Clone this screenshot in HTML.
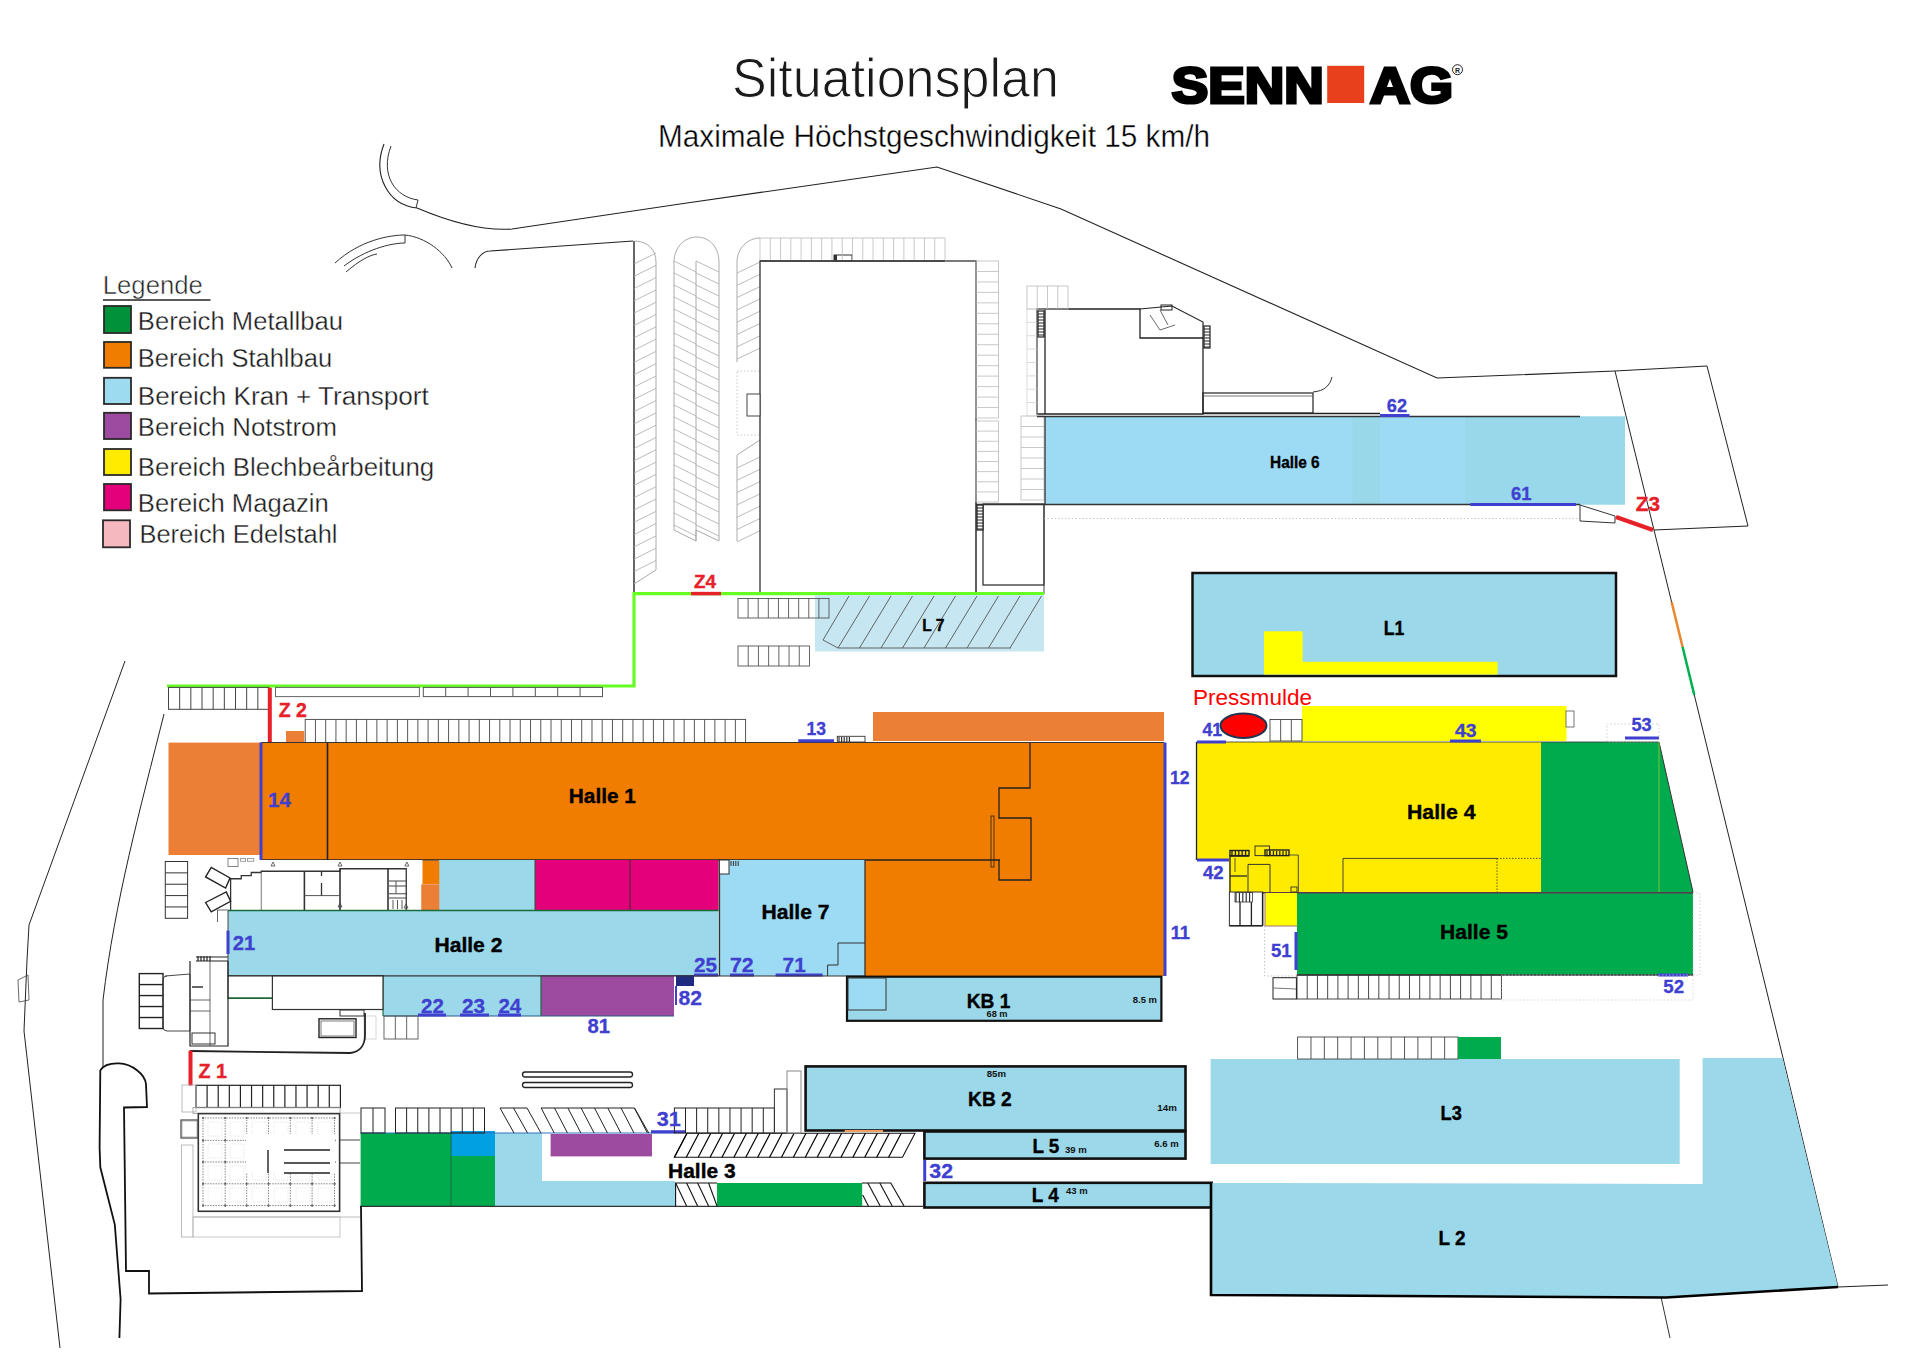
<!DOCTYPE html>
<html><head><meta charset="utf-8"><title>Situationsplan</title>
<style>html,body{margin:0;padding:0;background:#fff;}svg{display:block;}</style></head>
<body><svg width="1920" height="1357" viewBox="0 0 1920 1357" font-family="Liberation Sans, sans-serif">
<rect width="1920" height="1357" fill="#fff"/>
<path d="M384,144 C372,175 388,205 417,208 C450,222 485,231 512,229 L680,204 L937,167 L1061,209 L1437,378 L1615,371" fill="none" stroke="#222" stroke-width="1.1" />
<path d="M391,146 C380,175 395,197 418,200 L416,208" fill="none" stroke="#333" stroke-width="1" />
<path d="M335,263 C360,240 390,235 405,235 C425,237 445,252 452,268" fill="none" stroke="#333" stroke-width="1" />
<path d="M344,266 C365,250 390,243 405,243 L405,235" fill="none" stroke="#333" stroke-width="1" />
<path d="M346,272 C360,260 370,255 377,254" fill="none" stroke="#333" stroke-width="1" />
<path d="M475,268 C476,258 483,251 490,251 L633,241" fill="none" stroke="#222" stroke-width="1.1" />
<line x1="634" y1="241" x2="634" y2="594" stroke="#333" stroke-width="1.5" />
<polyline points="1615,371 1707,366 1748,526 1654,530 1615,371" fill="none" stroke="#222" stroke-width="1" />
<polyline points="1654,530 1784,1062 1838,1287 1888,1285" fill="none" stroke="#222" stroke-width="1" />
<line x1="1661" y1="1297" x2="1670" y2="1338" stroke="#333" stroke-width="1" />
<polyline points="125,661 29,925 27,960 24,1031 60,1348" fill="none" stroke="#222" stroke-width="1" />
<path d="M18,980 L28,975 L29,1000 L19,1002 Z" fill="none" stroke="#444" stroke-width="0.8" />
<path d="M164,714 C140,810 115,900 103,1000 L103,1068" fill="none" stroke="#222" stroke-width="1" />
<path d="M634,241 C648,241 656,250 656,262 L656,570 L634,584" fill="none" stroke="#aaa" stroke-width="1" />
<line x1="634" y1="264.0" x2="656" y2="253.0" stroke="#aaa" stroke-width="0.8" />
<line x1="634" y1="276.3" x2="656" y2="265.3" stroke="#aaa" stroke-width="0.8" />
<line x1="634" y1="288.6" x2="656" y2="277.6" stroke="#aaa" stroke-width="0.8" />
<line x1="634" y1="300.9" x2="656" y2="289.9" stroke="#aaa" stroke-width="0.8" />
<line x1="634" y1="313.2" x2="656" y2="302.2" stroke="#aaa" stroke-width="0.8" />
<line x1="634" y1="325.5" x2="656" y2="314.5" stroke="#aaa" stroke-width="0.8" />
<line x1="634" y1="337.8" x2="656" y2="326.8" stroke="#aaa" stroke-width="0.8" />
<line x1="634" y1="350.1" x2="656" y2="339.1" stroke="#aaa" stroke-width="0.8" />
<line x1="634" y1="362.4" x2="656" y2="351.4" stroke="#aaa" stroke-width="0.8" />
<line x1="634" y1="374.7" x2="656" y2="363.7" stroke="#aaa" stroke-width="0.8" />
<line x1="634" y1="387.0" x2="656" y2="376.0" stroke="#aaa" stroke-width="0.8" />
<line x1="634" y1="399.3" x2="656" y2="388.3" stroke="#aaa" stroke-width="0.8" />
<line x1="634" y1="411.6" x2="656" y2="400.6" stroke="#aaa" stroke-width="0.8" />
<line x1="634" y1="423.9" x2="656" y2="412.9" stroke="#aaa" stroke-width="0.8" />
<line x1="634" y1="436.2" x2="656" y2="425.2" stroke="#aaa" stroke-width="0.8" />
<line x1="634" y1="448.5" x2="656" y2="437.5" stroke="#aaa" stroke-width="0.8" />
<line x1="634" y1="460.8" x2="656" y2="449.8" stroke="#aaa" stroke-width="0.8" />
<line x1="634" y1="473.1" x2="656" y2="462.1" stroke="#aaa" stroke-width="0.8" />
<line x1="634" y1="485.4" x2="656" y2="474.4" stroke="#aaa" stroke-width="0.8" />
<line x1="634" y1="497.7" x2="656" y2="486.7" stroke="#aaa" stroke-width="0.8" />
<line x1="634" y1="510.0" x2="656" y2="499.0" stroke="#aaa" stroke-width="0.8" />
<line x1="634" y1="522.3" x2="656" y2="511.3" stroke="#aaa" stroke-width="0.8" />
<line x1="634" y1="534.6" x2="656" y2="523.6" stroke="#aaa" stroke-width="0.8" />
<line x1="634" y1="546.9" x2="656" y2="535.9" stroke="#aaa" stroke-width="0.8" />
<line x1="634" y1="559.2" x2="656" y2="548.2" stroke="#aaa" stroke-width="0.8" />
<line x1="634" y1="571.5" x2="656" y2="560.5" stroke="#aaa" stroke-width="0.8" />
<path d="M674,262 C674,248 684,237 697,237 C710,237 719,248 719,262 L719,541 L696,530 L696,541 L674,530 Z" fill="none" stroke="#aaa" stroke-width="1" />
<line x1="696" y1="261" x2="696" y2="541" stroke="#aaa" stroke-width="1" />
<line x1="674" y1="261" x2="696" y2="272" stroke="#aaa" stroke-width="0.8" />
<line x1="696" y1="261" x2="719" y2="272" stroke="#aaa" stroke-width="0.8" />
<line x1="674" y1="273" x2="696" y2="284" stroke="#aaa" stroke-width="0.8" />
<line x1="696" y1="273" x2="719" y2="284" stroke="#aaa" stroke-width="0.8" />
<line x1="674" y1="285" x2="696" y2="296" stroke="#aaa" stroke-width="0.8" />
<line x1="696" y1="285" x2="719" y2="296" stroke="#aaa" stroke-width="0.8" />
<line x1="674" y1="297" x2="696" y2="308" stroke="#aaa" stroke-width="0.8" />
<line x1="696" y1="297" x2="719" y2="308" stroke="#aaa" stroke-width="0.8" />
<line x1="674" y1="309" x2="696" y2="320" stroke="#aaa" stroke-width="0.8" />
<line x1="696" y1="309" x2="719" y2="320" stroke="#aaa" stroke-width="0.8" />
<line x1="674" y1="321" x2="696" y2="332" stroke="#aaa" stroke-width="0.8" />
<line x1="696" y1="321" x2="719" y2="332" stroke="#aaa" stroke-width="0.8" />
<line x1="674" y1="333" x2="696" y2="344" stroke="#aaa" stroke-width="0.8" />
<line x1="696" y1="333" x2="719" y2="344" stroke="#aaa" stroke-width="0.8" />
<line x1="674" y1="345" x2="696" y2="356" stroke="#aaa" stroke-width="0.8" />
<line x1="696" y1="345" x2="719" y2="356" stroke="#aaa" stroke-width="0.8" />
<line x1="674" y1="357" x2="696" y2="368" stroke="#aaa" stroke-width="0.8" />
<line x1="696" y1="357" x2="719" y2="368" stroke="#aaa" stroke-width="0.8" />
<line x1="674" y1="369" x2="696" y2="380" stroke="#aaa" stroke-width="0.8" />
<line x1="696" y1="369" x2="719" y2="380" stroke="#aaa" stroke-width="0.8" />
<line x1="674" y1="381" x2="696" y2="392" stroke="#aaa" stroke-width="0.8" />
<line x1="696" y1="381" x2="719" y2="392" stroke="#aaa" stroke-width="0.8" />
<line x1="674" y1="393" x2="696" y2="404" stroke="#aaa" stroke-width="0.8" />
<line x1="696" y1="393" x2="719" y2="404" stroke="#aaa" stroke-width="0.8" />
<line x1="674" y1="405" x2="696" y2="416" stroke="#aaa" stroke-width="0.8" />
<line x1="696" y1="405" x2="719" y2="416" stroke="#aaa" stroke-width="0.8" />
<line x1="674" y1="417" x2="696" y2="428" stroke="#aaa" stroke-width="0.8" />
<line x1="696" y1="417" x2="719" y2="428" stroke="#aaa" stroke-width="0.8" />
<line x1="674" y1="429" x2="696" y2="440" stroke="#aaa" stroke-width="0.8" />
<line x1="696" y1="429" x2="719" y2="440" stroke="#aaa" stroke-width="0.8" />
<line x1="674" y1="441" x2="696" y2="452" stroke="#aaa" stroke-width="0.8" />
<line x1="696" y1="441" x2="719" y2="452" stroke="#aaa" stroke-width="0.8" />
<line x1="674" y1="453" x2="696" y2="464" stroke="#aaa" stroke-width="0.8" />
<line x1="696" y1="453" x2="719" y2="464" stroke="#aaa" stroke-width="0.8" />
<line x1="674" y1="465" x2="696" y2="476" stroke="#aaa" stroke-width="0.8" />
<line x1="696" y1="465" x2="719" y2="476" stroke="#aaa" stroke-width="0.8" />
<line x1="674" y1="477" x2="696" y2="488" stroke="#aaa" stroke-width="0.8" />
<line x1="696" y1="477" x2="719" y2="488" stroke="#aaa" stroke-width="0.8" />
<line x1="674" y1="489" x2="696" y2="500" stroke="#aaa" stroke-width="0.8" />
<line x1="696" y1="489" x2="719" y2="500" stroke="#aaa" stroke-width="0.8" />
<line x1="674" y1="501" x2="696" y2="512" stroke="#aaa" stroke-width="0.8" />
<line x1="696" y1="501" x2="719" y2="512" stroke="#aaa" stroke-width="0.8" />
<line x1="674" y1="513" x2="696" y2="524" stroke="#aaa" stroke-width="0.8" />
<line x1="696" y1="513" x2="719" y2="524" stroke="#aaa" stroke-width="0.8" />
<line x1="674" y1="525" x2="696" y2="536" stroke="#aaa" stroke-width="0.8" />
<line x1="696" y1="525" x2="719" y2="536" stroke="#aaa" stroke-width="0.8" />
<path d="M737,362 L737,262 C737,248 748,238 760,238" fill="none" stroke="#aaa" stroke-width="1" />
<line x1="737" y1="273.0" x2="760" y2="262.0" stroke="#aaa" stroke-width="0.8" />
<line x1="737" y1="285.3" x2="760" y2="274.3" stroke="#aaa" stroke-width="0.8" />
<line x1="737" y1="297.6" x2="760" y2="286.6" stroke="#aaa" stroke-width="0.8" />
<line x1="737" y1="309.9" x2="760" y2="298.9" stroke="#aaa" stroke-width="0.8" />
<line x1="737" y1="322.2" x2="760" y2="311.2" stroke="#aaa" stroke-width="0.8" />
<line x1="737" y1="334.5" x2="760" y2="323.5" stroke="#aaa" stroke-width="0.8" />
<line x1="737" y1="346.8" x2="760" y2="335.8" stroke="#aaa" stroke-width="0.8" />
<line x1="737" y1="359.1" x2="760" y2="348.1" stroke="#aaa" stroke-width="0.8" />
<path d="M737,455 L760,440 M737,541 L737,455" fill="none" stroke="#aaa" stroke-width="1" />
<line x1="737" y1="468.0" x2="760" y2="457.0" stroke="#aaa" stroke-width="0.8" />
<line x1="737" y1="480.3" x2="760" y2="469.3" stroke="#aaa" stroke-width="0.8" />
<line x1="737" y1="492.6" x2="760" y2="481.6" stroke="#aaa" stroke-width="0.8" />
<line x1="737" y1="504.9" x2="760" y2="493.9" stroke="#aaa" stroke-width="0.8" />
<line x1="737" y1="517.2" x2="760" y2="506.2" stroke="#aaa" stroke-width="0.8" />
<line x1="737" y1="529.5" x2="760" y2="518.5" stroke="#aaa" stroke-width="0.8" />
<line x1="737" y1="541.8" x2="760" y2="530.8" stroke="#aaa" stroke-width="0.8" />
<rect x="737" y="371" width="23" height="64" fill="none" stroke="#bbb" stroke-width="0.8" stroke-dasharray="1.5,2"/>
<rect x="760" y="261" width="216" height="333" fill="none" stroke="#333" stroke-width="1.3" />
<rect x="747" y="394" width="13" height="22" fill="#fff" stroke="#444" stroke-width="1" />
<rect x="834" y="255" width="18" height="6" fill="none" stroke="#333" stroke-width="1" />
<rect x="834" y="255" width="3" height="6" fill="#333" stroke="none" stroke-width="1" />
<rect x="760" y="238" width="185" height="23" fill="none" stroke="#bbb" stroke-width="0.8" />
<line x1="770.28" y1="238" x2="770.28" y2="261" stroke="#bbb" stroke-width="0.8" />
<line x1="780.56" y1="238" x2="780.56" y2="261" stroke="#bbb" stroke-width="0.8" />
<line x1="790.83" y1="238" x2="790.83" y2="261" stroke="#bbb" stroke-width="0.8" />
<line x1="801.11" y1="238" x2="801.11" y2="261" stroke="#bbb" stroke-width="0.8" />
<line x1="811.39" y1="238" x2="811.39" y2="261" stroke="#bbb" stroke-width="0.8" />
<line x1="821.67" y1="238" x2="821.67" y2="261" stroke="#bbb" stroke-width="0.8" />
<line x1="831.94" y1="238" x2="831.94" y2="261" stroke="#bbb" stroke-width="0.8" />
<line x1="842.22" y1="238" x2="842.22" y2="261" stroke="#bbb" stroke-width="0.8" />
<line x1="852.5" y1="238" x2="852.5" y2="261" stroke="#bbb" stroke-width="0.8" />
<line x1="862.78" y1="238" x2="862.78" y2="261" stroke="#bbb" stroke-width="0.8" />
<line x1="873.06" y1="238" x2="873.06" y2="261" stroke="#bbb" stroke-width="0.8" />
<line x1="883.33" y1="238" x2="883.33" y2="261" stroke="#bbb" stroke-width="0.8" />
<line x1="893.61" y1="238" x2="893.61" y2="261" stroke="#bbb" stroke-width="0.8" />
<line x1="903.89" y1="238" x2="903.89" y2="261" stroke="#bbb" stroke-width="0.8" />
<line x1="914.17" y1="238" x2="914.17" y2="261" stroke="#bbb" stroke-width="0.8" />
<line x1="924.44" y1="238" x2="924.44" y2="261" stroke="#bbb" stroke-width="0.8" />
<line x1="934.72" y1="238" x2="934.72" y2="261" stroke="#bbb" stroke-width="0.8" />
<line x1="760" y1="261" x2="945" y2="261" stroke="#333" stroke-width="1.5" />
<rect x="976" y="261" width="22.4" height="157" fill="none" stroke="#bbb" stroke-width="0.8" />
<line x1="976" y1="271.47" x2="998.4" y2="271.47" stroke="#bbb" stroke-width="0.8" />
<line x1="976" y1="281.93" x2="998.4" y2="281.93" stroke="#bbb" stroke-width="0.8" />
<line x1="976" y1="292.4" x2="998.4" y2="292.4" stroke="#bbb" stroke-width="0.8" />
<line x1="976" y1="302.87" x2="998.4" y2="302.87" stroke="#bbb" stroke-width="0.8" />
<line x1="976" y1="313.33" x2="998.4" y2="313.33" stroke="#bbb" stroke-width="0.8" />
<line x1="976" y1="323.8" x2="998.4" y2="323.8" stroke="#bbb" stroke-width="0.8" />
<line x1="976" y1="334.27" x2="998.4" y2="334.27" stroke="#bbb" stroke-width="0.8" />
<line x1="976" y1="344.73" x2="998.4" y2="344.73" stroke="#bbb" stroke-width="0.8" />
<line x1="976" y1="355.2" x2="998.4" y2="355.2" stroke="#bbb" stroke-width="0.8" />
<line x1="976" y1="365.67" x2="998.4" y2="365.67" stroke="#bbb" stroke-width="0.8" />
<line x1="976" y1="376.13" x2="998.4" y2="376.13" stroke="#bbb" stroke-width="0.8" />
<line x1="976" y1="386.6" x2="998.4" y2="386.6" stroke="#bbb" stroke-width="0.8" />
<line x1="976" y1="397.07" x2="998.4" y2="397.07" stroke="#bbb" stroke-width="0.8" />
<line x1="976" y1="407.53" x2="998.4" y2="407.53" stroke="#bbb" stroke-width="0.8" />
<rect x="976" y="421" width="22.4" height="81" fill="none" stroke="#bbb" stroke-width="0.8" />
<line x1="976" y1="431.12" x2="998.4" y2="431.12" stroke="#bbb" stroke-width="0.8" />
<line x1="976" y1="441.25" x2="998.4" y2="441.25" stroke="#bbb" stroke-width="0.8" />
<line x1="976" y1="451.38" x2="998.4" y2="451.38" stroke="#bbb" stroke-width="0.8" />
<line x1="976" y1="461.5" x2="998.4" y2="461.5" stroke="#bbb" stroke-width="0.8" />
<line x1="976" y1="471.62" x2="998.4" y2="471.62" stroke="#bbb" stroke-width="0.8" />
<line x1="976" y1="481.75" x2="998.4" y2="481.75" stroke="#bbb" stroke-width="0.8" />
<line x1="976" y1="491.88" x2="998.4" y2="491.88" stroke="#bbb" stroke-width="0.8" />
<rect x="1021" y="416" width="23" height="84" fill="none" stroke="#bbb" stroke-width="0.8" />
<line x1="1021" y1="426.5" x2="1044" y2="426.5" stroke="#bbb" stroke-width="0.8" />
<line x1="1021" y1="437.0" x2="1044" y2="437.0" stroke="#bbb" stroke-width="0.8" />
<line x1="1021" y1="447.5" x2="1044" y2="447.5" stroke="#bbb" stroke-width="0.8" />
<line x1="1021" y1="458.0" x2="1044" y2="458.0" stroke="#bbb" stroke-width="0.8" />
<line x1="1021" y1="468.5" x2="1044" y2="468.5" stroke="#bbb" stroke-width="0.8" />
<line x1="1021" y1="479.0" x2="1044" y2="479.0" stroke="#bbb" stroke-width="0.8" />
<line x1="1021" y1="489.5" x2="1044" y2="489.5" stroke="#bbb" stroke-width="0.8" />
<rect x="983" y="504" width="61" height="81" fill="none" stroke="#333" stroke-width="1.3" />
<line x1="976" y1="502" x2="976" y2="594" stroke="#444" stroke-width="1" />
<path d="M1037,309 L1140,309 L1140,338 L1203,338 L1203,414 L1037,414 Z" fill="none" stroke="#222" stroke-width="1.3" />
<line x1="1045" y1="309" x2="1045" y2="414" stroke="#222" stroke-width="1.3" />
<path d="M1140,309 L1172,306 L1203,322 L1203,338" fill="none" stroke="#222" stroke-width="1.2" />
<path d="M1150,315 L1160,330 L1175,325 M1160,310 L1168,325" fill="none" stroke="#444" stroke-width="0.8" />
<rect x="1203" y="393" width="110" height="20" fill="none" stroke="#222" stroke-width="1.2" />
<line x1="1203" y1="396" x2="1313" y2="396" stroke="#555" stroke-width="0.8" />
<path d="M1313,392 C1325,391 1330,385 1332,377" fill="none" stroke="#333" stroke-width="1" />
<rect x="1027" y="286" width="41" height="23" fill="none" stroke="#bbb" stroke-width="0.8" />
<line x1="1037.25" y1="286" x2="1037.25" y2="309" stroke="#bbb" stroke-width="0.8" />
<line x1="1047.5" y1="286" x2="1047.5" y2="309" stroke="#bbb" stroke-width="0.8" />
<line x1="1057.75" y1="286" x2="1057.75" y2="309" stroke="#bbb" stroke-width="0.8" />
<rect x="1027" y="309" width="10" height="107" fill="none" stroke="#ccc" stroke-width="0.7" />
<line x1="1027" y1="322.38" x2="1037" y2="322.38" stroke="#ccc" stroke-width="0.7" />
<line x1="1027" y1="335.75" x2="1037" y2="335.75" stroke="#ccc" stroke-width="0.7" />
<line x1="1027" y1="349.12" x2="1037" y2="349.12" stroke="#ccc" stroke-width="0.7" />
<line x1="1027" y1="362.5" x2="1037" y2="362.5" stroke="#ccc" stroke-width="0.7" />
<line x1="1027" y1="375.88" x2="1037" y2="375.88" stroke="#ccc" stroke-width="0.7" />
<line x1="1027" y1="389.25" x2="1037" y2="389.25" stroke="#ccc" stroke-width="0.7" />
<line x1="1027" y1="402.62" x2="1037" y2="402.62" stroke="#ccc" stroke-width="0.7" />
<line x1="1203" y1="413.5" x2="1380" y2="413.5" stroke="#222" stroke-width="1.3" />
<rect x="1038" y="311" width="6" height="26" fill="#fff" stroke="#222" stroke-width="1.2" />
<line x1="1038" y1="314" x2="1044" y2="314" stroke="#222" stroke-width="1" />
<line x1="1038" y1="317" x2="1044" y2="317" stroke="#222" stroke-width="1" />
<line x1="1038" y1="320" x2="1044" y2="320" stroke="#222" stroke-width="1" />
<line x1="1038" y1="323" x2="1044" y2="323" stroke="#222" stroke-width="1" />
<line x1="1038" y1="326" x2="1044" y2="326" stroke="#222" stroke-width="1" />
<line x1="1038" y1="329" x2="1044" y2="329" stroke="#222" stroke-width="1" />
<line x1="1038" y1="332" x2="1044" y2="332" stroke="#222" stroke-width="1" />
<line x1="1038" y1="335" x2="1044" y2="335" stroke="#222" stroke-width="1" />
<rect x="1204" y="326" width="6" height="22" fill="#fff" stroke="#222" stroke-width="1.2" />
<line x1="1204" y1="329" x2="1210" y2="329" stroke="#222" stroke-width="1" />
<line x1="1204" y1="332" x2="1210" y2="332" stroke="#222" stroke-width="1" />
<line x1="1204" y1="335" x2="1210" y2="335" stroke="#222" stroke-width="1" />
<line x1="1204" y1="338" x2="1210" y2="338" stroke="#222" stroke-width="1" />
<line x1="1204" y1="341" x2="1210" y2="341" stroke="#222" stroke-width="1" />
<line x1="1204" y1="344" x2="1210" y2="344" stroke="#222" stroke-width="1" />
<line x1="1204" y1="347" x2="1210" y2="347" stroke="#222" stroke-width="1" />
<rect x="977" y="505" width="6" height="25" fill="#fff" stroke="#222" stroke-width="1.2" />
<line x1="977" y1="508" x2="983" y2="508" stroke="#222" stroke-width="1" />
<line x1="977" y1="511" x2="983" y2="511" stroke="#222" stroke-width="1" />
<line x1="977" y1="514" x2="983" y2="514" stroke="#222" stroke-width="1" />
<line x1="977" y1="517" x2="983" y2="517" stroke="#222" stroke-width="1" />
<line x1="977" y1="520" x2="983" y2="520" stroke="#222" stroke-width="1" />
<line x1="977" y1="523" x2="983" y2="523" stroke="#222" stroke-width="1" />
<line x1="977" y1="526" x2="983" y2="526" stroke="#222" stroke-width="1" />
<line x1="977" y1="529" x2="983" y2="529" stroke="#222" stroke-width="1" />
<rect x="1161" y="305" width="11" height="5" fill="none" stroke="#222" stroke-width="1" />
<rect x="1045" y="416.5" width="580" height="88.0" fill="#9DDBF4" stroke="none" stroke-width="1" />
<rect x="1352.6" y="416.5" width="27.4" height="88.0" fill="#98D8E9" stroke="none" stroke-width="1" />
<rect x="1465" y="416.5" width="160" height="88.0" fill="#98D8EA" stroke="none" stroke-width="1" />
<line x1="1037" y1="416.5" x2="1580" y2="416.5" stroke="#333" stroke-width="1.3" />
<line x1="976" y1="504.5" x2="1580" y2="504.5" stroke="#333" stroke-width="1.3" />
<line x1="1045" y1="416.5" x2="1045" y2="504.5" stroke="#333" stroke-width="1.3" />
<line x1="1044" y1="504.5" x2="1044" y2="594" stroke="#444" stroke-width="1" />
<line x1="1044" y1="518.5" x2="1580" y2="518.5" stroke="#bbb" stroke-width="0.8" stroke-dasharray="1.5,2"/>
<polygon points="1580,505 1615,516 1615,523 1580,521" fill="none" stroke="#333" stroke-width="1" />
<line x1="1616" y1="517" x2="1653" y2="530" stroke="#E62129" stroke-width="4.5" />
<polyline points="167,686 634,686 634,593.6 1044,593.6" fill="none" stroke="#66FF22" stroke-width="3.2" />
<line x1="691" y1="593.6" x2="721" y2="593.6" stroke="#E62129" stroke-width="3.5" />
<rect x="815" y="595" width="229" height="56.5" fill="#C6E7F1" stroke="none" stroke-width="1" />
<polyline points="849,596 823,640 838,648 1011,648" fill="none" stroke="#555" stroke-width="0.9" />
<line x1="838.0" y1="648" x2="869.5" y2="596" stroke="#555" stroke-width="0.9" />
<line x1="859.5" y1="648" x2="891.0" y2="596" stroke="#555" stroke-width="0.9" />
<line x1="881.0" y1="648" x2="912.5" y2="596" stroke="#555" stroke-width="0.9" />
<line x1="902.5" y1="648" x2="934.0" y2="596" stroke="#555" stroke-width="0.9" />
<line x1="924.0" y1="648" x2="955.5" y2="596" stroke="#555" stroke-width="0.9" />
<line x1="945.5" y1="648" x2="977.0" y2="596" stroke="#555" stroke-width="0.9" />
<line x1="967.0" y1="648" x2="998.5" y2="596" stroke="#555" stroke-width="0.9" />
<line x1="988.5" y1="648" x2="1020.0" y2="596" stroke="#555" stroke-width="0.9" />
<line x1="1010.0" y1="648" x2="1041.5" y2="596" stroke="#555" stroke-width="0.9" />
<rect x="738" y="598.5" width="91" height="19.5" fill="none" stroke="#555" stroke-width="0.9" />
<line x1="748.11" y1="598.5" x2="748.11" y2="618" stroke="#555" stroke-width="0.9" />
<line x1="758.22" y1="598.5" x2="758.22" y2="618" stroke="#555" stroke-width="0.9" />
<line x1="768.33" y1="598.5" x2="768.33" y2="618" stroke="#555" stroke-width="0.9" />
<line x1="778.44" y1="598.5" x2="778.44" y2="618" stroke="#555" stroke-width="0.9" />
<line x1="788.56" y1="598.5" x2="788.56" y2="618" stroke="#555" stroke-width="0.9" />
<line x1="798.67" y1="598.5" x2="798.67" y2="618" stroke="#555" stroke-width="0.9" />
<line x1="808.78" y1="598.5" x2="808.78" y2="618" stroke="#555" stroke-width="0.9" />
<line x1="818.89" y1="598.5" x2="818.89" y2="618" stroke="#555" stroke-width="0.9" />
<rect x="738" y="646" width="71.5" height="20" fill="none" stroke="#555" stroke-width="0.9" />
<line x1="748.21" y1="646" x2="748.21" y2="666" stroke="#555" stroke-width="0.9" />
<line x1="758.43" y1="646" x2="758.43" y2="666" stroke="#555" stroke-width="0.9" />
<line x1="768.64" y1="646" x2="768.64" y2="666" stroke="#555" stroke-width="0.9" />
<line x1="778.86" y1="646" x2="778.86" y2="666" stroke="#555" stroke-width="0.9" />
<line x1="789.07" y1="646" x2="789.07" y2="666" stroke="#555" stroke-width="0.9" />
<line x1="799.29" y1="646" x2="799.29" y2="666" stroke="#555" stroke-width="0.9" />
<rect x="168.5" y="687.4" width="100.5" height="21.9" fill="none" stroke="#444" stroke-width="1" />
<line x1="179.67" y1="687.4" x2="179.67" y2="709.3" stroke="#444" stroke-width="1" />
<line x1="190.83" y1="687.4" x2="190.83" y2="709.3" stroke="#444" stroke-width="1" />
<line x1="202.0" y1="687.4" x2="202.0" y2="709.3" stroke="#444" stroke-width="1" />
<line x1="213.17" y1="687.4" x2="213.17" y2="709.3" stroke="#444" stroke-width="1" />
<line x1="224.33" y1="687.4" x2="224.33" y2="709.3" stroke="#444" stroke-width="1" />
<line x1="235.5" y1="687.4" x2="235.5" y2="709.3" stroke="#444" stroke-width="1" />
<line x1="246.67" y1="687.4" x2="246.67" y2="709.3" stroke="#444" stroke-width="1" />
<line x1="257.83" y1="687.4" x2="257.83" y2="709.3" stroke="#444" stroke-width="1" />
<rect x="275.5" y="687.4" width="143.9" height="9.2" fill="none" stroke="#666" stroke-width="1" />
<rect x="423.3" y="687.4" width="179.2" height="9.2" fill="none" stroke="#555" stroke-width="1" />
<line x1="445.7" y1="687.4" x2="445.7" y2="696.6" stroke="#555" stroke-width="1" />
<line x1="468.1" y1="687.4" x2="468.1" y2="696.6" stroke="#555" stroke-width="1" />
<line x1="490.5" y1="687.4" x2="490.5" y2="696.6" stroke="#555" stroke-width="1" />
<line x1="512.9" y1="687.4" x2="512.9" y2="696.6" stroke="#555" stroke-width="1" />
<line x1="535.3" y1="687.4" x2="535.3" y2="696.6" stroke="#555" stroke-width="1" />
<line x1="557.7" y1="687.4" x2="557.7" y2="696.6" stroke="#555" stroke-width="1" />
<line x1="580.1" y1="687.4" x2="580.1" y2="696.6" stroke="#555" stroke-width="1" />
<rect x="305.2" y="719.4" width="440.4" height="23.1" fill="none" stroke="#444" stroke-width="0.9" />
<line x1="315.44" y1="719.4" x2="315.44" y2="742.5" stroke="#444" stroke-width="0.9" />
<line x1="325.68" y1="719.4" x2="325.68" y2="742.5" stroke="#444" stroke-width="0.9" />
<line x1="335.93" y1="719.4" x2="335.93" y2="742.5" stroke="#444" stroke-width="0.9" />
<line x1="346.17" y1="719.4" x2="346.17" y2="742.5" stroke="#444" stroke-width="0.9" />
<line x1="356.41" y1="719.4" x2="356.41" y2="742.5" stroke="#444" stroke-width="0.9" />
<line x1="366.65" y1="719.4" x2="366.65" y2="742.5" stroke="#444" stroke-width="0.9" />
<line x1="376.89" y1="719.4" x2="376.89" y2="742.5" stroke="#444" stroke-width="0.9" />
<line x1="387.13" y1="719.4" x2="387.13" y2="742.5" stroke="#444" stroke-width="0.9" />
<line x1="397.38" y1="719.4" x2="397.38" y2="742.5" stroke="#444" stroke-width="0.9" />
<line x1="407.62" y1="719.4" x2="407.62" y2="742.5" stroke="#444" stroke-width="0.9" />
<line x1="417.86" y1="719.4" x2="417.86" y2="742.5" stroke="#444" stroke-width="0.9" />
<line x1="428.1" y1="719.4" x2="428.1" y2="742.5" stroke="#444" stroke-width="0.9" />
<line x1="438.34" y1="719.4" x2="438.34" y2="742.5" stroke="#444" stroke-width="0.9" />
<line x1="448.59" y1="719.4" x2="448.59" y2="742.5" stroke="#444" stroke-width="0.9" />
<line x1="458.83" y1="719.4" x2="458.83" y2="742.5" stroke="#444" stroke-width="0.9" />
<line x1="469.07" y1="719.4" x2="469.07" y2="742.5" stroke="#444" stroke-width="0.9" />
<line x1="479.31" y1="719.4" x2="479.31" y2="742.5" stroke="#444" stroke-width="0.9" />
<line x1="489.55" y1="719.4" x2="489.55" y2="742.5" stroke="#444" stroke-width="0.9" />
<line x1="499.8" y1="719.4" x2="499.8" y2="742.5" stroke="#444" stroke-width="0.9" />
<line x1="510.04" y1="719.4" x2="510.04" y2="742.5" stroke="#444" stroke-width="0.9" />
<line x1="520.28" y1="719.4" x2="520.28" y2="742.5" stroke="#444" stroke-width="0.9" />
<line x1="530.52" y1="719.4" x2="530.52" y2="742.5" stroke="#444" stroke-width="0.9" />
<line x1="540.76" y1="719.4" x2="540.76" y2="742.5" stroke="#444" stroke-width="0.9" />
<line x1="551.0" y1="719.4" x2="551.0" y2="742.5" stroke="#444" stroke-width="0.9" />
<line x1="561.25" y1="719.4" x2="561.25" y2="742.5" stroke="#444" stroke-width="0.9" />
<line x1="571.49" y1="719.4" x2="571.49" y2="742.5" stroke="#444" stroke-width="0.9" />
<line x1="581.73" y1="719.4" x2="581.73" y2="742.5" stroke="#444" stroke-width="0.9" />
<line x1="591.97" y1="719.4" x2="591.97" y2="742.5" stroke="#444" stroke-width="0.9" />
<line x1="602.21" y1="719.4" x2="602.21" y2="742.5" stroke="#444" stroke-width="0.9" />
<line x1="612.46" y1="719.4" x2="612.46" y2="742.5" stroke="#444" stroke-width="0.9" />
<line x1="622.7" y1="719.4" x2="622.7" y2="742.5" stroke="#444" stroke-width="0.9" />
<line x1="632.94" y1="719.4" x2="632.94" y2="742.5" stroke="#444" stroke-width="0.9" />
<line x1="643.18" y1="719.4" x2="643.18" y2="742.5" stroke="#444" stroke-width="0.9" />
<line x1="653.42" y1="719.4" x2="653.42" y2="742.5" stroke="#444" stroke-width="0.9" />
<line x1="663.67" y1="719.4" x2="663.67" y2="742.5" stroke="#444" stroke-width="0.9" />
<line x1="673.91" y1="719.4" x2="673.91" y2="742.5" stroke="#444" stroke-width="0.9" />
<line x1="684.15" y1="719.4" x2="684.15" y2="742.5" stroke="#444" stroke-width="0.9" />
<line x1="694.39" y1="719.4" x2="694.39" y2="742.5" stroke="#444" stroke-width="0.9" />
<line x1="704.63" y1="719.4" x2="704.63" y2="742.5" stroke="#444" stroke-width="0.9" />
<line x1="714.87" y1="719.4" x2="714.87" y2="742.5" stroke="#444" stroke-width="0.9" />
<line x1="725.12" y1="719.4" x2="725.12" y2="742.5" stroke="#444" stroke-width="0.9" />
<line x1="735.36" y1="719.4" x2="735.36" y2="742.5" stroke="#444" stroke-width="0.9" />
<line x1="269.8" y1="687.7" x2="269.8" y2="742.6" stroke="#E62129" stroke-width="4" />
<rect x="286" y="731" width="18.3" height="11.5" fill="#EC7F36" stroke="none" stroke-width="1" />
<rect x="168.5" y="742.6" width="92.5" height="112.4" fill="#EC7F36" stroke="none" stroke-width="1" />
<rect x="873" y="712" width="291" height="29" fill="#EC7F36" stroke="none" stroke-width="1" />
<polygon points="261,742.5 1164,742.5 1164,976 865,976 865,860 261,860" fill="#F07D00" stroke="none" stroke-width="1" />
<line x1="261" y1="742.5" x2="1164" y2="742.5" stroke="#333" stroke-width="1.2" />
<line x1="261" y1="860" x2="1000" y2="860" stroke="#222" stroke-width="1.3" />
<line x1="327.5" y1="742.5" x2="327.5" y2="860" stroke="#222" stroke-width="1.6" />
<polyline points="1030,743 1030,788 999,788 999,818 1031,818 1031,880 999,880 999,860" fill="none" stroke="#222" stroke-width="1.3" />
<rect x="991" y="816" width="3" height="51" fill="none" stroke="#222" stroke-width="0.8" />
<rect x="837.3" y="736.3" width="27.7" height="5.7" fill="#fff" stroke="#333" stroke-width="0.9" />
<line x1="839.0" y1="737" x2="839.0" y2="742" stroke="#333" stroke-width="1.2" />
<line x1="841.6" y1="737" x2="841.6" y2="742" stroke="#333" stroke-width="1.2" />
<line x1="844.2" y1="737" x2="844.2" y2="742" stroke="#333" stroke-width="1.2" />
<line x1="846.8" y1="737" x2="846.8" y2="742" stroke="#333" stroke-width="1.2" />
<line x1="849.4" y1="737" x2="849.4" y2="742" stroke="#333" stroke-width="1.2" />
<line x1="798.3" y1="740.8" x2="834" y2="740.8" stroke="#4040D0" stroke-width="3" />
<line x1="261" y1="742.5" x2="261" y2="860" stroke="#4040D0" stroke-width="3" />
<line x1="1165" y1="742.5" x2="1165" y2="976" stroke="#4040D0" stroke-width="3" />
<rect x="228" y="860" width="194.4" height="50.5" fill="#fff" stroke="none" stroke-width="1" />
<polyline points="230.6,910 230.6,878.75 241.25,878.75 241.25,875.6 251.25,875.6 251.25,872.5 261.25,872.5 261.25,871.25 340,871.25 340,868.75 406.25,868.75 406.25,910" fill="none" stroke="#333" stroke-width="1.3" />
<line x1="261.25" y1="872" x2="261.25" y2="910" stroke="#666" stroke-width="0.9" />
<line x1="304.4" y1="871" x2="304.4" y2="910" stroke="#333" stroke-width="1.6" />
<line x1="340" y1="868.75" x2="340" y2="910" stroke="#333" stroke-width="1.6" />
<line x1="388" y1="868.75" x2="388" y2="910" stroke="#333" stroke-width="1.6" />
<line x1="304.4" y1="895.6" x2="340" y2="895.6" stroke="#555" stroke-width="1" />
<line x1="321.5" y1="883" x2="321.5" y2="895.6" stroke="#333" stroke-width="1.3" />
<line x1="321.5" y1="871" x2="321.5" y2="876" stroke="#333" stroke-width="1.3" />
<line x1="389" y1="881" x2="406" y2="881" stroke="#444" stroke-width="1" />
<line x1="389" y1="886" x2="406" y2="886" stroke="#444" stroke-width="1" />
<line x1="389" y1="893.75" x2="406" y2="893.75" stroke="#444" stroke-width="1" />
<line x1="389" y1="898" x2="406" y2="898" stroke="#444" stroke-width="1" />
<line x1="393" y1="900" x2="393" y2="909" stroke="#444" stroke-width="0.9" />
<line x1="397.5" y1="900" x2="397.5" y2="909" stroke="#444" stroke-width="0.9" />
<line x1="402" y1="900" x2="402" y2="909" stroke="#444" stroke-width="0.9" />
<line x1="396" y1="881" x2="396" y2="893" stroke="#444" stroke-width="0.9" />
<polygon points="205.6,876.9 211.25,867.5 230,878 225.6,888" fill="none" stroke="#222" stroke-width="1.4" />
<polygon points="205.6,902.5 226.25,891.9 230.6,901.25 211.25,911.9" fill="none" stroke="#222" stroke-width="1.4" />
<rect x="228" y="858.5" width="10" height="8.0" fill="none" stroke="#777" stroke-width="0.9" />
<rect x="240.6" y="858.5" width="5.0" height="2.75" fill="none" stroke="#888" stroke-width="0.8" />
<rect x="247.5" y="858.5" width="6.25" height="2.75" fill="none" stroke="#888" stroke-width="0.8" />
<line x1="217.5" y1="910" x2="217.5" y2="922" stroke="#555" stroke-width="0.9" />
<line x1="217.5" y1="910" x2="228" y2="910" stroke="#555" stroke-width="0.9" />
<path d="M338,866 L340,862 L342,866 Z" fill="none" stroke="#444" stroke-width="0.8" />
<path d="M404.9,866 L406.9,862 L408.9,866 Z" fill="none" stroke="#444" stroke-width="0.8" />
<path d="M271,866 L273,862 L275,866 Z" fill="none" stroke="#444" stroke-width="0.8" />
<path d="M338,907 L340,903 L342,907 Z" fill="none" stroke="#444" stroke-width="0.8" />
<path d="M404,908 L406,904 L408,908 Z" fill="none" stroke="#444" stroke-width="0.8" />
<rect x="438.9" y="860" width="96.1" height="50.5" fill="#9BD8EA" stroke="none" stroke-width="1" />
<rect x="422.5" y="860.6" width="16.8" height="23.8" fill="#F07D00" stroke="none" stroke-width="1" />
<rect x="421.25" y="884.4" width="18.05" height="25.6" fill="#EC7F36" stroke="none" stroke-width="1" />
<rect x="535" y="860" width="183.5" height="50.5" fill="#E3007A" stroke="none" stroke-width="1" />
<line x1="630" y1="860" x2="630" y2="910.5" stroke="#333" stroke-width="1" />
<line x1="535" y1="860" x2="535" y2="910.5" stroke="#1a5a3a" stroke-width="1" />
<rect x="719.4" y="860" width="145.6" height="116" fill="#9DDBF4" stroke="none" stroke-width="1" />
<line x1="719.4" y1="860" x2="719.4" y2="976" stroke="#333" stroke-width="1.5" />
<line x1="865" y1="860" x2="865" y2="976" stroke="#333" stroke-width="1.3" />
<rect x="719.4" y="860" width="9.6" height="14" fill="#fff" stroke="#333" stroke-width="1" />
<line x1="731.0" y1="861" x2="731.0" y2="866" stroke="#333" stroke-width="1" />
<line x1="733.4" y1="861" x2="733.4" y2="866" stroke="#333" stroke-width="1" />
<line x1="735.8" y1="861" x2="735.8" y2="866" stroke="#333" stroke-width="1" />
<line x1="738.2" y1="861" x2="738.2" y2="866" stroke="#333" stroke-width="1" />
<polyline points="827.6,976 827.6,965 838,965 838,943 865,943" fill="none" stroke="#333" stroke-width="1" />
<rect x="228" y="910.5" width="490.5" height="65.1" fill="#9BD8EA" stroke="none" stroke-width="1" />
<line x1="228" y1="910.5" x2="718.5" y2="910.5" stroke="#1a6b3a" stroke-width="1.5" />
<line x1="228" y1="975.6" x2="718.5" y2="975.6" stroke="#445" stroke-width="1" />
<line x1="228" y1="910.5" x2="228" y2="975.6" stroke="#444" stroke-width="1" />
<rect x="383" y="975.6" width="158" height="40.4" fill="#9BD8EA" stroke="none" stroke-width="1" />
<rect x="541" y="975.6" width="133" height="40.4" fill="#9D4BA1" stroke="none" stroke-width="1" />
<line x1="541" y1="975.6" x2="541" y2="1016" stroke="#1a6b3a" stroke-width="1.2" />
<line x1="383" y1="1016" x2="674" y2="1016" stroke="#2a5a8a" stroke-width="1.2" />
<line x1="383" y1="975.6" x2="383" y2="1016" stroke="#1a6b3a" stroke-width="1.2" />
<rect x="676" y="975.6" width="18" height="10.4" fill="#1F2A80" stroke="none" stroke-width="1" />
<line x1="676" y1="986" x2="676" y2="1005" stroke="#4040D0" stroke-width="2" />
<rect x="228" y="975.6" width="48.6" height="22.9" fill="#fff" stroke="#444" stroke-width="1" />
<rect x="272.4" y="975.6" width="110.6" height="33.9" fill="#fff" stroke="#333" stroke-width="1.2" />
<line x1="228" y1="998" x2="272" y2="998" stroke="#1a6b3a" stroke-width="1.5" />
<line x1="228" y1="910.5" x2="228" y2="975.6" stroke="#4040D0" stroke-width="0" />
<line x1="228" y1="930.6" x2="228" y2="954" stroke="#4040D0" stroke-width="3" />
<line x1="418" y1="1015" x2="446" y2="1015" stroke="#4040D0" stroke-width="3" />
<line x1="460" y1="1015" x2="489" y2="1015" stroke="#4040D0" stroke-width="3" />
<line x1="498" y1="1015" x2="521" y2="1015" stroke="#4040D0" stroke-width="3" />
<line x1="694" y1="975" x2="718" y2="975" stroke="#4040D0" stroke-width="3" />
<line x1="730" y1="975" x2="754" y2="975" stroke="#4040D0" stroke-width="3" />
<line x1="775.6" y1="975" x2="822.6" y2="975" stroke="#4040D0" stroke-width="3" />
<line x1="228" y1="976" x2="865" y2="976" stroke="#333" stroke-width="1" />
<rect x="847" y="976.7" width="314.4" height="44.1" fill="#9BD8EA" stroke="#111" stroke-width="2.2" />
<rect x="848" y="978" width="38" height="32" fill="#9DDBF4" stroke="#333" stroke-width="1" />
<rect x="805.6" y="1066.4" width="379.9" height="64.1" fill="#9BD8EA" stroke="#111" stroke-width="2.6" />
<rect x="924.4" y="1131.5" width="261.1" height="27.1" fill="#9BD8EA" stroke="#111" stroke-width="2.6" />
<rect x="924.4" y="1182.8" width="287.3" height="24.7" fill="#9BD8EA" stroke="#111" stroke-width="2.6" />
<line x1="844.7" y1="1131" x2="883" y2="1131" stroke="#F0A060" stroke-width="2" />
<line x1="924.7" y1="1160" x2="924.7" y2="1181" stroke="#4040D0" stroke-width="3" />
<rect x="1210.6" y="1059" width="469.1" height="105" fill="#9BD8EA" stroke="none" stroke-width="1" />
<polygon points="1211,1183 1702.6,1183.9 1702.6,1058 1782.5,1058 1838,1287 1666,1297.5 1211,1294.8" fill="#9BD8EA" stroke="none" stroke-width="1" />
<polyline points="1211,1183 1211,1295 1400,1296 1666,1297.5 1838,1287" fill="none" stroke="#000" stroke-width="2.6" />
<rect x="1297.6" y="1037" width="160.4" height="22" fill="none" stroke="#444" stroke-width="0.9" />
<line x1="1310.97" y1="1037" x2="1310.97" y2="1059" stroke="#444" stroke-width="0.9" />
<line x1="1324.33" y1="1037" x2="1324.33" y2="1059" stroke="#444" stroke-width="0.9" />
<line x1="1337.7" y1="1037" x2="1337.7" y2="1059" stroke="#444" stroke-width="0.9" />
<line x1="1351.07" y1="1037" x2="1351.07" y2="1059" stroke="#444" stroke-width="0.9" />
<line x1="1364.43" y1="1037" x2="1364.43" y2="1059" stroke="#444" stroke-width="0.9" />
<line x1="1377.8" y1="1037" x2="1377.8" y2="1059" stroke="#444" stroke-width="0.9" />
<line x1="1391.17" y1="1037" x2="1391.17" y2="1059" stroke="#444" stroke-width="0.9" />
<line x1="1404.53" y1="1037" x2="1404.53" y2="1059" stroke="#444" stroke-width="0.9" />
<line x1="1417.9" y1="1037" x2="1417.9" y2="1059" stroke="#444" stroke-width="0.9" />
<line x1="1431.27" y1="1037" x2="1431.27" y2="1059" stroke="#444" stroke-width="0.9" />
<line x1="1444.63" y1="1037" x2="1444.63" y2="1059" stroke="#444" stroke-width="0.9" />
<rect x="1458" y="1037" width="43" height="22" fill="#00AB4E" stroke="none" stroke-width="1" />
<rect x="360.6" y="1133" width="90.4" height="73" fill="#00AB4E" stroke="none" stroke-width="1" />
<rect x="451" y="1131" width="44" height="25" fill="#00A0E2" stroke="none" stroke-width="1" />
<rect x="451" y="1156" width="44" height="50" fill="#00AB4E" stroke="none" stroke-width="1" />
<line x1="451" y1="1133" x2="451" y2="1206" stroke="#1a5a3a" stroke-width="0.8" />
<rect x="495" y="1133" width="47" height="73" fill="#9BD8EA" stroke="none" stroke-width="1" />
<rect x="542" y="1181" width="133" height="25" fill="#9BD8EA" stroke="none" stroke-width="1" />
<rect x="550.6" y="1134" width="101.4" height="22.4" fill="#9D4BA1" stroke="none" stroke-width="1" />
<line x1="360" y1="1206.3" x2="924" y2="1206.3" stroke="#333" stroke-width="1.2" />
<line x1="360.5" y1="1133" x2="675" y2="1133" stroke="#3070c0" stroke-width="1" />
<polygon points="674.4,1157.3 902.5,1157.3 915,1133.3 687,1133.3" fill="none" stroke="#111" stroke-width="1.1" />
<line x1="674.4" y1="1157.3" x2="687.0" y2="1133.3" stroke="#000" stroke-width="1.2" />
<line x1="686.3" y1="1157.3" x2="698.9" y2="1133.3" stroke="#000" stroke-width="1.2" />
<line x1="698.2" y1="1157.3" x2="710.8" y2="1133.3" stroke="#000" stroke-width="1.2" />
<line x1="710.1" y1="1157.3" x2="722.7" y2="1133.3" stroke="#000" stroke-width="1.2" />
<line x1="722.0" y1="1157.3" x2="734.6" y2="1133.3" stroke="#000" stroke-width="1.2" />
<line x1="733.9" y1="1157.3" x2="746.5" y2="1133.3" stroke="#000" stroke-width="1.2" />
<line x1="745.8" y1="1157.3" x2="758.4" y2="1133.3" stroke="#000" stroke-width="1.2" />
<line x1="757.7" y1="1157.3" x2="770.3" y2="1133.3" stroke="#000" stroke-width="1.2" />
<line x1="769.6" y1="1157.3" x2="782.2" y2="1133.3" stroke="#000" stroke-width="1.2" />
<line x1="781.5" y1="1157.3" x2="794.1" y2="1133.3" stroke="#000" stroke-width="1.2" />
<line x1="793.4" y1="1157.3" x2="806.0" y2="1133.3" stroke="#000" stroke-width="1.2" />
<line x1="805.3" y1="1157.3" x2="817.9" y2="1133.3" stroke="#000" stroke-width="1.2" />
<line x1="817.2" y1="1157.3" x2="829.8" y2="1133.3" stroke="#000" stroke-width="1.2" />
<line x1="829.1" y1="1157.3" x2="841.7" y2="1133.3" stroke="#000" stroke-width="1.2" />
<line x1="841.0" y1="1157.3" x2="853.6" y2="1133.3" stroke="#000" stroke-width="1.2" />
<line x1="852.9" y1="1157.3" x2="865.5" y2="1133.3" stroke="#000" stroke-width="1.2" />
<line x1="864.8" y1="1157.3" x2="877.4" y2="1133.3" stroke="#000" stroke-width="1.2" />
<line x1="876.7" y1="1157.3" x2="889.3" y2="1133.3" stroke="#000" stroke-width="1.2" />
<line x1="888.6" y1="1157.3" x2="901.2" y2="1133.3" stroke="#000" stroke-width="1.2" />
<rect x="717" y="1183" width="145.2" height="23" fill="#00AB4E" stroke="none" stroke-width="1" />
<polyline points="675.6,1206 675.6,1183 717,1183" fill="none" stroke="#111" stroke-width="1.1" />
<line x1="675.6" y1="1183" x2="686.6" y2="1206" stroke="#111" stroke-width="1.1" />
<line x1="686.6" y1="1183" x2="697.6" y2="1206" stroke="#111" stroke-width="1.1" />
<line x1="697.6" y1="1183" x2="708.6" y2="1206" stroke="#111" stroke-width="1.1" />
<line x1="708.6" y1="1183" x2="717" y2="1206" stroke="#111" stroke-width="1.1" />
<polyline points="862,1183 890.8,1183 904,1206" fill="none" stroke="#111" stroke-width="1.1" />
<line x1="867.8" y1="1183" x2="880.2" y2="1206" stroke="#111" stroke-width="1.1" />
<line x1="879.8" y1="1183" x2="892.2" y2="1206" stroke="#111" stroke-width="1.1" />
<line x1="862.75" y1="1195" x2="868.4" y2="1206" stroke="#111" stroke-width="1.1" />
<line x1="651" y1="1131.7" x2="686" y2="1131.7" stroke="#4040D0" stroke-width="3" />
<rect x="674.4" y="1108" width="100.0" height="25" fill="none" stroke="#222" stroke-width="1" />
<line x1="685.51" y1="1108" x2="685.51" y2="1133" stroke="#222" stroke-width="1" />
<line x1="696.62" y1="1108" x2="696.62" y2="1133" stroke="#222" stroke-width="1" />
<line x1="707.73" y1="1108" x2="707.73" y2="1133" stroke="#222" stroke-width="1" />
<line x1="718.84" y1="1108" x2="718.84" y2="1133" stroke="#222" stroke-width="1" />
<line x1="729.96" y1="1108" x2="729.96" y2="1133" stroke="#222" stroke-width="1" />
<line x1="741.07" y1="1108" x2="741.07" y2="1133" stroke="#222" stroke-width="1" />
<line x1="752.18" y1="1108" x2="752.18" y2="1133" stroke="#222" stroke-width="1" />
<line x1="763.29" y1="1108" x2="763.29" y2="1133" stroke="#222" stroke-width="1" />
<rect x="774.4" y="1089" width="12.6" height="44" fill="none" stroke="#333" stroke-width="1" />
<rect x="787" y="1071" width="14" height="62" fill="none" stroke="#888" stroke-width="1" />
<rect x="361" y="1108" width="24" height="25" fill="none" stroke="#222" stroke-width="1" />
<line x1="373.0" y1="1108" x2="373.0" y2="1133" stroke="#222" stroke-width="1" />
<rect x="395.5" y="1108" width="89.0" height="25" fill="none" stroke="#222" stroke-width="1" />
<line x1="406.62" y1="1108" x2="406.62" y2="1133" stroke="#222" stroke-width="1" />
<line x1="417.75" y1="1108" x2="417.75" y2="1133" stroke="#222" stroke-width="1" />
<line x1="428.88" y1="1108" x2="428.88" y2="1133" stroke="#222" stroke-width="1" />
<line x1="440.0" y1="1108" x2="440.0" y2="1133" stroke="#222" stroke-width="1" />
<line x1="451.12" y1="1108" x2="451.12" y2="1133" stroke="#222" stroke-width="1" />
<line x1="462.25" y1="1108" x2="462.25" y2="1133" stroke="#222" stroke-width="1" />
<line x1="473.38" y1="1108" x2="473.38" y2="1133" stroke="#222" stroke-width="1" />
<line x1="500" y1="1108" x2="527" y2="1108" stroke="#222" stroke-width="1" />
<line x1="500.0" y1="1108" x2="514.0" y2="1133" stroke="#222" stroke-width="1" />
<line x1="513.5" y1="1108" x2="527.5" y2="1133" stroke="#222" stroke-width="1" />
<line x1="527.0" y1="1108" x2="541.0" y2="1133" stroke="#222" stroke-width="1" />
<line x1="541" y1="1108" x2="634.5" y2="1108" stroke="#222" stroke-width="1" />
<line x1="541.2" y1="1108" x2="554.2" y2="1133" stroke="#222" stroke-width="1" />
<line x1="554.5" y1="1108" x2="567.5" y2="1133" stroke="#222" stroke-width="1" />
<line x1="567.9" y1="1108" x2="580.9" y2="1133" stroke="#222" stroke-width="1" />
<line x1="581.1" y1="1108" x2="594.1" y2="1133" stroke="#222" stroke-width="1" />
<line x1="594.5" y1="1108" x2="607.5" y2="1133" stroke="#222" stroke-width="1" />
<line x1="607.8" y1="1108" x2="620.8" y2="1133" stroke="#222" stroke-width="1" />
<line x1="621.0" y1="1108" x2="634.0" y2="1133" stroke="#222" stroke-width="1" />
<line x1="634.4" y1="1108" x2="647.4" y2="1133" stroke="#222" stroke-width="1" />
<line x1="634.5" y1="1108" x2="648.75" y2="1133" stroke="#222" stroke-width="1" />
<path d="M522.5,1074.5 a2.5,2.5 0 0 1 2.5,-2.5 h105 a2.5,2.5 0 0 1 0,5 h-105 a2.5,2.5 0 0 1 -2.5,-2.5 Z" fill="none" stroke="#222" stroke-width="1.3" />
<path d="M522.5,1085 a2.5,2.5 0 0 1 2.5,-2.5 h105 a2.5,2.5 0 0 1 0,5 h-105 a2.5,2.5 0 0 1 -2.5,-2.5 Z" fill="none" stroke="#222" stroke-width="1.3" />
<rect x="1192.5" y="573" width="423.5" height="103" fill="#9BD8EA" stroke="#111" stroke-width="2.5" />
<rect x="1264" y="631.3" width="38.6" height="43.2" fill="#FFFF00" stroke="none" stroke-width="1" />
<rect x="1302" y="661.8" width="195.5" height="12.7" fill="#FFFF00" stroke="none" stroke-width="1" />
<rect x="1302" y="706" width="264.5" height="35" fill="#FFFF00" stroke="none" stroke-width="1" />
<rect x="1566" y="711" width="8" height="16" fill="#fff" stroke="#555" stroke-width="0.8" />
<polygon points="1196.5,742 1541,742 1541,892 1229,892 1229,860 1196.5,860" fill="#FFEB00" stroke="none" stroke-width="1" />
<polygon points="1541,742 1659,742 1693,892 1541,892" fill="#00AB4E" stroke="none" stroke-width="1" />
<line x1="1659" y1="742" x2="1693" y2="892" stroke="#333" stroke-width="1" />
<line x1="1659" y1="742" x2="1659" y2="892" stroke="#9c3" stroke-width="0.8" />
<line x1="1196.5" y1="742" x2="1659" y2="742" stroke="#333" stroke-width="0.8" />
<line x1="1196.5" y1="742" x2="1196.5" y2="860" stroke="#222" stroke-width="1.3" />
<polyline points="1343,892 1343,858.4 1497,858.4" fill="none" stroke="#333" stroke-width="0.9" />
<polyline points="1497,858.4 1541,858.4" fill="none" stroke="#333" stroke-width="0.8" stroke-dasharray="1.5,1.5"/>
<line x1="1497" y1="858.4" x2="1497" y2="892" stroke="#333" stroke-width="0.8" stroke-dasharray="1.5,1.5"/>
<rect x="1297" y="893" width="396" height="82" fill="#00AB4E" stroke="none" stroke-width="1" />
<line x1="1229" y1="892.7" x2="1693" y2="892.7" stroke="#5a3a4a" stroke-width="1.4" />
<line x1="1297" y1="975" x2="1693" y2="975" stroke="#333" stroke-width="1.3" />
<rect x="1265" y="893" width="32" height="33" fill="#FFFF00" stroke="none" stroke-width="1" />
<polyline points="1265,893 1265,926 1297,926" fill="none" stroke="#a06080" stroke-width="0.9" />
<rect x="1297" y="975" width="204.5" height="24" fill="none" stroke="#333" stroke-width="0.9" />
<line x1="1307.22" y1="975" x2="1307.22" y2="999" stroke="#333" stroke-width="0.9" />
<line x1="1317.45" y1="975" x2="1317.45" y2="999" stroke="#333" stroke-width="0.9" />
<line x1="1327.67" y1="975" x2="1327.67" y2="999" stroke="#333" stroke-width="0.9" />
<line x1="1337.9" y1="975" x2="1337.9" y2="999" stroke="#333" stroke-width="0.9" />
<line x1="1348.12" y1="975" x2="1348.12" y2="999" stroke="#333" stroke-width="0.9" />
<line x1="1358.35" y1="975" x2="1358.35" y2="999" stroke="#333" stroke-width="0.9" />
<line x1="1368.58" y1="975" x2="1368.58" y2="999" stroke="#333" stroke-width="0.9" />
<line x1="1378.8" y1="975" x2="1378.8" y2="999" stroke="#333" stroke-width="0.9" />
<line x1="1389.03" y1="975" x2="1389.03" y2="999" stroke="#333" stroke-width="0.9" />
<line x1="1399.25" y1="975" x2="1399.25" y2="999" stroke="#333" stroke-width="0.9" />
<line x1="1409.47" y1="975" x2="1409.47" y2="999" stroke="#333" stroke-width="0.9" />
<line x1="1419.7" y1="975" x2="1419.7" y2="999" stroke="#333" stroke-width="0.9" />
<line x1="1429.92" y1="975" x2="1429.92" y2="999" stroke="#333" stroke-width="0.9" />
<line x1="1440.15" y1="975" x2="1440.15" y2="999" stroke="#333" stroke-width="0.9" />
<line x1="1450.38" y1="975" x2="1450.38" y2="999" stroke="#333" stroke-width="0.9" />
<line x1="1460.6" y1="975" x2="1460.6" y2="999" stroke="#333" stroke-width="0.9" />
<line x1="1470.83" y1="975" x2="1470.83" y2="999" stroke="#333" stroke-width="0.9" />
<line x1="1481.05" y1="975" x2="1481.05" y2="999" stroke="#333" stroke-width="0.9" />
<line x1="1491.28" y1="975" x2="1491.28" y2="999" stroke="#333" stroke-width="0.9" />
<rect x="1273" y="977.7" width="23.4" height="21.3" fill="none" stroke="#222" stroke-width="1" />
<line x1="1273.5" y1="988" x2="1296" y2="989" stroke="#555" stroke-width="0.8" />
<rect x="1229" y="850" width="68" height="42" fill="#FFEB00" stroke="none" stroke-width="1" />
<polyline points="1230,892 1230,856 1249,856" fill="none" stroke="#222" stroke-width="1.3" />
<rect x="1230" y="850.5" width="19" height="5.1" fill="none" stroke="#222" stroke-width="1.4" />
<line x1="1232.0" y1="851" x2="1232.0" y2="855.6" stroke="#222" stroke-width="1.3" />
<line x1="1235.4" y1="851" x2="1235.4" y2="855.6" stroke="#222" stroke-width="1.3" />
<line x1="1238.8" y1="851" x2="1238.8" y2="855.6" stroke="#222" stroke-width="1.3" />
<line x1="1242.2" y1="851" x2="1242.2" y2="855.6" stroke="#222" stroke-width="1.3" />
<line x1="1245.6" y1="851" x2="1245.6" y2="855.6" stroke="#222" stroke-width="1.3" />
<rect x="1255" y="846" width="14.5" height="9.6" fill="none" stroke="#333" stroke-width="1" />
<rect x="1265" y="850" width="24" height="5.6" fill="none" stroke="#222" stroke-width="1.4" />
<line x1="1267.0" y1="851" x2="1267.0" y2="855.6" stroke="#222" stroke-width="1.2" />
<line x1="1270.2" y1="851" x2="1270.2" y2="855.6" stroke="#222" stroke-width="1.2" />
<line x1="1273.4" y1="851" x2="1273.4" y2="855.6" stroke="#222" stroke-width="1.2" />
<line x1="1276.6" y1="851" x2="1276.6" y2="855.6" stroke="#222" stroke-width="1.2" />
<line x1="1279.8" y1="851" x2="1279.8" y2="855.6" stroke="#222" stroke-width="1.2" />
<line x1="1283.0" y1="851" x2="1283.0" y2="855.6" stroke="#222" stroke-width="1.2" />
<line x1="1286.2" y1="851" x2="1286.2" y2="855.6" stroke="#222" stroke-width="1.2" />
<line x1="1289" y1="855" x2="1298.3" y2="855" stroke="#444" stroke-width="0.9" />
<line x1="1298.3" y1="855" x2="1298.3" y2="892" stroke="#444" stroke-width="1" />
<polyline points="1248,892 1248,864.4 1270,864.4 1270,892" fill="none" stroke="#333" stroke-width="1" />
<line x1="1230" y1="876" x2="1247" y2="876" stroke="#333" stroke-width="1.4" />
<line x1="1235" y1="858" x2="1235" y2="872" stroke="#444" stroke-width="0.9" />
<rect x="1291" y="887" width="6" height="5" fill="none" stroke="#333" stroke-width="0.9" />
<rect x="1229.4" y="892" width="33.2" height="33.7" fill="#fff" stroke="#333" stroke-width="1" />
<line x1="1262.6" y1="892" x2="1262.6" y2="925.7" stroke="#222" stroke-width="1.5" />
<line x1="1240" y1="902" x2="1240" y2="925.7" stroke="#222" stroke-width="1.3" />
<line x1="1251.4" y1="902" x2="1251.4" y2="925.7" stroke="#222" stroke-width="1.3" />
<rect x="1235" y="892.6" width="17.6" height="9.4" fill="none" stroke="#333" stroke-width="0.8" />
<line x1="1236.0" y1="893" x2="1236.0" y2="902" stroke="#222" stroke-width="1.1" />
<line x1="1239.4" y1="893" x2="1239.4" y2="902" stroke="#222" stroke-width="1.1" />
<line x1="1242.8" y1="893" x2="1242.8" y2="902" stroke="#222" stroke-width="1.1" />
<line x1="1246.2" y1="893" x2="1246.2" y2="902" stroke="#222" stroke-width="1.1" />
<line x1="1249.6" y1="893" x2="1249.6" y2="902" stroke="#222" stroke-width="1.1" />
<line x1="1229.4" y1="925.7" x2="1262.6" y2="925.7" stroke="#222" stroke-width="1.5" />
<polyline points="1264.6,926 1264.6,976 1297,976" fill="none" stroke="#aaa" stroke-width="0.7" stroke-dasharray="1.5,2"/>
<line x1="1296" y1="932" x2="1296" y2="970" stroke="#4040D0" stroke-width="3" />
<line x1="1658" y1="975" x2="1688" y2="975" stroke="#4040D0" stroke-width="3" />
<line x1="1625" y1="738" x2="1659" y2="738" stroke="#4040D0" stroke-width="3" />
<line x1="1450" y1="741" x2="1481" y2="741" stroke="#4040D0" stroke-width="3" />
<line x1="1197" y1="742" x2="1226" y2="742" stroke="#4040D0" stroke-width="3" />
<line x1="1197" y1="860" x2="1229" y2="860" stroke="#4040D0" stroke-width="3" />
<line x1="1380" y1="415.5" x2="1409.5" y2="415.5" stroke="#4040D0" stroke-width="3" />
<line x1="1470.4" y1="504.5" x2="1576" y2="504.5" stroke="#4040D0" stroke-width="3" />
<ellipse cx="1243.5" cy="725.8" rx="23" ry="12.2" fill="#FF0000" stroke="#1F3550" stroke-width="2"/>
<rect x="1270" y="719.5" width="32" height="21.5" fill="none" stroke="#444" stroke-width="0.9" />
<line x1="1280.67" y1="719.5" x2="1280.67" y2="741" stroke="#444" stroke-width="0.9" />
<line x1="1291.33" y1="719.5" x2="1291.33" y2="741" stroke="#444" stroke-width="0.9" />
<rect x="1607" y="724" width="52" height="18" fill="none" stroke="#bbb" stroke-width="0.7" stroke-dasharray="1.5,2"/>
<rect x="1693" y="893" width="7" height="82" fill="none" stroke="#bbb" stroke-width="0.7" stroke-dasharray="1.5,2"/>
<rect x="1501" y="975" width="192" height="25" fill="none" stroke="#ccc" stroke-width="0.7" stroke-dasharray="1.5,2"/>
<polyline points="1671.6,602 1682.6,647" fill="none" stroke="#E8872F" stroke-width="2.5" />
<polyline points="1682.6,647 1694.3,695" fill="none" stroke="#00B050" stroke-width="2.5" />
<rect x="165.3" y="861.5" width="22.3" height="56.8" fill="none" stroke="#333" stroke-width="1" />
<line x1="165.3" y1="872.86" x2="187.6" y2="872.86" stroke="#333" stroke-width="1" />
<line x1="165.3" y1="884.22" x2="187.6" y2="884.22" stroke="#333" stroke-width="1" />
<line x1="165.3" y1="895.58" x2="187.6" y2="895.58" stroke="#333" stroke-width="1" />
<line x1="165.3" y1="906.94" x2="187.6" y2="906.94" stroke="#333" stroke-width="1" />
<rect x="228" y="910.5" width="0" height="65.1" fill="none" stroke="none" stroke-width="1" />
<path d="M196,957 L228,957 M196,961 L228,961 M190,961 L190,1046 L228,1046 L228,961" fill="none" stroke="#222" stroke-width="1.2" />
<line x1="198" y1="956" x2="198" y2="961" stroke="#222" stroke-width="1.2" />
<line x1="201" y1="956" x2="201" y2="961" stroke="#222" stroke-width="1.2" />
<line x1="204" y1="956" x2="204" y2="961" stroke="#222" stroke-width="1.2" />
<line x1="207" y1="956" x2="207" y2="961" stroke="#222" stroke-width="1.2" />
<line x1="210" y1="956" x2="210" y2="961" stroke="#222" stroke-width="1.2" />
<line x1="210" y1="961" x2="210" y2="1046" stroke="#444" stroke-width="0.8" />
<line x1="190" y1="1000" x2="210" y2="1000" stroke="#444" stroke-width="0.8" />
<line x1="190" y1="1011" x2="210" y2="1011" stroke="#444" stroke-width="0.8" />
<line x1="192" y1="987" x2="203" y2="987" stroke="#333" stroke-width="1.5" />
<rect x="192" y="1033" width="23" height="11" fill="none" stroke="#333" stroke-width="1" />
<rect x="139.3" y="973.6" width="23.7" height="54.9" fill="none" stroke="#222" stroke-width="1.4" />
<line x1="139.3" y1="984.58" x2="163" y2="984.58" stroke="#222" stroke-width="1.4" />
<line x1="139.3" y1="995.56" x2="163" y2="995.56" stroke="#222" stroke-width="1.4" />
<line x1="139.3" y1="1006.54" x2="163" y2="1006.54" stroke="#222" stroke-width="1.4" />
<line x1="139.3" y1="1017.52" x2="163" y2="1017.52" stroke="#222" stroke-width="1.4" />
<path d="M165,976 L190,974 L190,1031 L167,1031 Q163,1031 163,1027 L163,980 Q163,976 167,976" fill="none" stroke="#333" stroke-width="0.9" />
<rect x="319" y="1018.8" width="37" height="18.7" fill="none" stroke="#222" stroke-width="1.4" />
<rect x="321" y="1021" width="33" height="15" fill="none" stroke="#444" stroke-width="0.7" />
<rect x="384" y="1016" width="34" height="23" fill="none" stroke="#555" stroke-width="0.9" />
<line x1="395.33" y1="1016" x2="395.33" y2="1039" stroke="#555" stroke-width="0.9" />
<line x1="406.67" y1="1016" x2="406.67" y2="1039" stroke="#555" stroke-width="0.9" />
<rect x="364" y="1016" width="12" height="23" fill="none" stroke="#ccc" stroke-width="0.8" />
<path d="M190,1051 L350,1053 C360,1052 365,1045 365,1035 L365,1013" fill="none" stroke="#222" stroke-width="1.8" />
<rect x="340" y="1010" width="24" height="6" fill="none" stroke="#333" stroke-width="1" />
<line x1="190.5" y1="1050.6" x2="190.5" y2="1085.6" stroke="#E62129" stroke-width="4" />
<rect x="196" y="1085.3" width="144.4" height="22.2" fill="none" stroke="#222" stroke-width="1.2" />
<line x1="207.11" y1="1085.3" x2="207.11" y2="1107.5" stroke="#222" stroke-width="1.2" />
<line x1="218.22" y1="1085.3" x2="218.22" y2="1107.5" stroke="#222" stroke-width="1.2" />
<line x1="229.32" y1="1085.3" x2="229.32" y2="1107.5" stroke="#222" stroke-width="1.2" />
<line x1="240.43" y1="1085.3" x2="240.43" y2="1107.5" stroke="#222" stroke-width="1.2" />
<line x1="251.54" y1="1085.3" x2="251.54" y2="1107.5" stroke="#222" stroke-width="1.2" />
<line x1="262.65" y1="1085.3" x2="262.65" y2="1107.5" stroke="#222" stroke-width="1.2" />
<line x1="273.75" y1="1085.3" x2="273.75" y2="1107.5" stroke="#222" stroke-width="1.2" />
<line x1="284.86" y1="1085.3" x2="284.86" y2="1107.5" stroke="#222" stroke-width="1.2" />
<line x1="295.97" y1="1085.3" x2="295.97" y2="1107.5" stroke="#222" stroke-width="1.2" />
<line x1="307.08" y1="1085.3" x2="307.08" y2="1107.5" stroke="#222" stroke-width="1.2" />
<line x1="318.18" y1="1085.3" x2="318.18" y2="1107.5" stroke="#222" stroke-width="1.2" />
<line x1="329.29" y1="1085.3" x2="329.29" y2="1107.5" stroke="#222" stroke-width="1.2" />
<rect x="182" y="1085" width="14" height="27" fill="none" stroke="#aaa" stroke-width="0.8" />
<rect x="193" y="1107.5" width="147" height="6.1" fill="none" stroke="#999" stroke-width="0.8" />
<rect x="198.3" y="1113.6" width="141.3" height="97.7" fill="none" stroke="#333" stroke-width="1.6" />
<line x1="203" y1="1117" x2="203" y2="1207" stroke="#777" stroke-width="0.9" stroke-dasharray="1.5,1.2"/>
<line x1="225.2" y1="1117" x2="225.2" y2="1207" stroke="#777" stroke-width="0.9" stroke-dasharray="1.5,1.2"/>
<line x1="246.7" y1="1117" x2="246.7" y2="1207" stroke="#777" stroke-width="0.9" stroke-dasharray="1.5,1.2"/>
<line x1="268.5" y1="1117" x2="268.5" y2="1207" stroke="#777" stroke-width="0.9" stroke-dasharray="1.5,1.2"/>
<line x1="290.3" y1="1117" x2="290.3" y2="1207" stroke="#777" stroke-width="0.9" stroke-dasharray="1.5,1.2"/>
<line x1="312.1" y1="1117" x2="312.1" y2="1207" stroke="#777" stroke-width="0.9" stroke-dasharray="1.5,1.2"/>
<line x1="334.5" y1="1117" x2="334.5" y2="1207" stroke="#777" stroke-width="0.9" stroke-dasharray="1.5,1.2"/>
<line x1="202" y1="1118" x2="337" y2="1118" stroke="#777" stroke-width="0.9" stroke-dasharray="1.5,1.2"/>
<line x1="202" y1="1140.4" x2="337" y2="1140.4" stroke="#777" stroke-width="0.9" stroke-dasharray="1.5,1.2"/>
<line x1="202" y1="1162" x2="337" y2="1162" stroke="#777" stroke-width="0.9" stroke-dasharray="1.5,1.2"/>
<line x1="202" y1="1183.8" x2="337" y2="1183.8" stroke="#777" stroke-width="0.9" stroke-dasharray="1.5,1.2"/>
<line x1="202" y1="1205.6" x2="337" y2="1205.6" stroke="#777" stroke-width="0.9" stroke-dasharray="1.5,1.2"/>
<circle cx="203" cy="1118" r="1.1" fill="#666"/>
<circle cx="203" cy="1140.4" r="1.1" fill="#666"/>
<circle cx="203" cy="1162" r="1.1" fill="#666"/>
<circle cx="203" cy="1183.8" r="1.1" fill="#666"/>
<circle cx="203" cy="1205.6" r="1.1" fill="#666"/>
<circle cx="225.2" cy="1118" r="1.1" fill="#666"/>
<circle cx="225.2" cy="1140.4" r="1.1" fill="#666"/>
<circle cx="225.2" cy="1162" r="1.1" fill="#666"/>
<circle cx="225.2" cy="1183.8" r="1.1" fill="#666"/>
<circle cx="225.2" cy="1205.6" r="1.1" fill="#666"/>
<circle cx="246.7" cy="1118" r="1.1" fill="#666"/>
<circle cx="246.7" cy="1140.4" r="1.1" fill="#666"/>
<circle cx="246.7" cy="1162" r="1.1" fill="#666"/>
<circle cx="246.7" cy="1183.8" r="1.1" fill="#666"/>
<circle cx="246.7" cy="1205.6" r="1.1" fill="#666"/>
<circle cx="268.5" cy="1118" r="1.1" fill="#666"/>
<circle cx="268.5" cy="1140.4" r="1.1" fill="#666"/>
<circle cx="268.5" cy="1162" r="1.1" fill="#666"/>
<circle cx="268.5" cy="1183.8" r="1.1" fill="#666"/>
<circle cx="268.5" cy="1205.6" r="1.1" fill="#666"/>
<circle cx="290.3" cy="1118" r="1.1" fill="#666"/>
<circle cx="290.3" cy="1140.4" r="1.1" fill="#666"/>
<circle cx="290.3" cy="1162" r="1.1" fill="#666"/>
<circle cx="290.3" cy="1183.8" r="1.1" fill="#666"/>
<circle cx="290.3" cy="1205.6" r="1.1" fill="#666"/>
<circle cx="312.1" cy="1118" r="1.1" fill="#666"/>
<circle cx="312.1" cy="1140.4" r="1.1" fill="#666"/>
<circle cx="312.1" cy="1162" r="1.1" fill="#666"/>
<circle cx="312.1" cy="1183.8" r="1.1" fill="#666"/>
<circle cx="312.1" cy="1205.6" r="1.1" fill="#666"/>
<circle cx="334.5" cy="1118" r="1.1" fill="#666"/>
<circle cx="334.5" cy="1140.4" r="1.1" fill="#666"/>
<circle cx="334.5" cy="1162" r="1.1" fill="#666"/>
<circle cx="334.5" cy="1183.8" r="1.1" fill="#666"/>
<circle cx="334.5" cy="1205.6" r="1.1" fill="#666"/>
<rect x="208" y="1122" width="14" height="14" fill="none" stroke="#ccc" stroke-width="0.5" stroke-dasharray="1,1"/>
<rect x="208" y="1144" width="14" height="14" fill="none" stroke="#ccc" stroke-width="0.5" stroke-dasharray="1,1"/>
<rect x="208" y="1166" width="14" height="14" fill="none" stroke="#ccc" stroke-width="0.5" stroke-dasharray="1,1"/>
<rect x="208" y="1188" width="14" height="14" fill="none" stroke="#ccc" stroke-width="0.5" stroke-dasharray="1,1"/>
<rect x="230" y="1122" width="14" height="14" fill="none" stroke="#ccc" stroke-width="0.5" stroke-dasharray="1,1"/>
<rect x="230" y="1144" width="14" height="14" fill="none" stroke="#ccc" stroke-width="0.5" stroke-dasharray="1,1"/>
<rect x="230" y="1166" width="14" height="14" fill="none" stroke="#ccc" stroke-width="0.5" stroke-dasharray="1,1"/>
<rect x="230" y="1188" width="14" height="14" fill="none" stroke="#ccc" stroke-width="0.5" stroke-dasharray="1,1"/>
<rect x="252" y="1122" width="14" height="14" fill="none" stroke="#ccc" stroke-width="0.5" stroke-dasharray="1,1"/>
<rect x="252" y="1144" width="14" height="14" fill="none" stroke="#ccc" stroke-width="0.5" stroke-dasharray="1,1"/>
<rect x="252" y="1166" width="14" height="14" fill="none" stroke="#ccc" stroke-width="0.5" stroke-dasharray="1,1"/>
<rect x="252" y="1188" width="14" height="14" fill="none" stroke="#ccc" stroke-width="0.5" stroke-dasharray="1,1"/>
<rect x="274" y="1122" width="14" height="14" fill="none" stroke="#ccc" stroke-width="0.5" stroke-dasharray="1,1"/>
<rect x="274" y="1144" width="14" height="14" fill="none" stroke="#ccc" stroke-width="0.5" stroke-dasharray="1,1"/>
<rect x="274" y="1166" width="14" height="14" fill="none" stroke="#ccc" stroke-width="0.5" stroke-dasharray="1,1"/>
<rect x="274" y="1188" width="14" height="14" fill="none" stroke="#ccc" stroke-width="0.5" stroke-dasharray="1,1"/>
<rect x="296" y="1122" width="14" height="14" fill="none" stroke="#ccc" stroke-width="0.5" stroke-dasharray="1,1"/>
<rect x="296" y="1144" width="14" height="14" fill="none" stroke="#ccc" stroke-width="0.5" stroke-dasharray="1,1"/>
<rect x="296" y="1166" width="14" height="14" fill="none" stroke="#ccc" stroke-width="0.5" stroke-dasharray="1,1"/>
<rect x="296" y="1188" width="14" height="14" fill="none" stroke="#ccc" stroke-width="0.5" stroke-dasharray="1,1"/>
<rect x="318" y="1122" width="14" height="14" fill="none" stroke="#ccc" stroke-width="0.5" stroke-dasharray="1,1"/>
<rect x="318" y="1144" width="14" height="14" fill="none" stroke="#ccc" stroke-width="0.5" stroke-dasharray="1,1"/>
<rect x="318" y="1166" width="14" height="14" fill="none" stroke="#ccc" stroke-width="0.5" stroke-dasharray="1,1"/>
<rect x="318" y="1188" width="14" height="14" fill="none" stroke="#ccc" stroke-width="0.5" stroke-dasharray="1,1"/>
<rect x="246" y="1134" width="89" height="39" fill="#fff" stroke="none" stroke-width="1" />
<path d="M268,1150 L268,1173 M284,1150 L330,1150 M284,1163 L330,1163 M284,1173 L330,1173" fill="none" stroke="#222" stroke-width="1.4" />
<rect x="181" y="1120" width="17" height="18" fill="none" stroke="#444" stroke-width="1.2" />
<rect x="182" y="1121" width="15" height="16" fill="none" stroke="#888" stroke-width="0.6" />
<rect x="181.5" y="1145" width="11.5" height="92" fill="none" stroke="#aaa" stroke-width="0.8" />
<line x1="193" y1="1217" x2="360" y2="1217" stroke="#aaa" stroke-width="0.8" />
<rect x="193" y="1217" width="147" height="20" fill="none" stroke="#bbb" stroke-width="0.8" />
<line x1="340" y1="1113" x2="360" y2="1113" stroke="#bbb" stroke-width="0.8" />
<line x1="340" y1="1140" x2="360" y2="1140" stroke="#444" stroke-width="1" />
<line x1="340" y1="1163" x2="360" y2="1163" stroke="#444" stroke-width="1" />
<path d="M361,1206 L362,1291 L149,1293.5 L149,1271 L126,1271 L124,1107.5 L147,1107 L146,1084 C145,1074 132,1064 119,1063.4 C110,1063 103,1066 100.3,1070.4 L99.6,1147.5 L100.3,1167.3 L114.8,1224.6 L120.6,1299.3 L119.4,1338" fill="none" stroke="#111" stroke-width="1.8" />
<text x="732" y="96.5" font-family="Liberation Sans" font-size="55.5" font-weight="normal" fill="#1a1a1a" text-anchor="start" textLength="327" lengthAdjust="spacingAndGlyphs" stroke="#fff" stroke-width="1">Situationsplan</text>
<text x="658" y="146.9" font-family="Liberation Sans" font-size="31.5" font-weight="normal" fill="#000" text-anchor="start" textLength="552" lengthAdjust="spacingAndGlyphs" stroke="#fff" stroke-width="0.4">Maximale Höchstgeschwindigkeit 15 km/h</text>
<text x="1171.8" y="102.6" font-family="Liberation Sans" font-size="50" font-weight="bold" fill="#000" text-anchor="start" textLength="152" lengthAdjust="spacingAndGlyphs" stroke="#000" stroke-width="3.2" stroke-linejoin="miter">SENN</text>
<rect x="1327.2" y="65.8" width="37.0" height="37.2" fill="#E8401C" stroke="none" stroke-width="1" />
<text x="1370" y="102.6" font-family="Liberation Sans" font-size="50" font-weight="bold" fill="#000" text-anchor="start" textLength="83" lengthAdjust="spacingAndGlyphs" stroke="#000" stroke-width="3.2" stroke-linejoin="miter">AG</text>
<circle cx="1457.5" cy="69.7" r="5" fill="none" stroke="#222" stroke-width="1"/>
<text x="1457.5" y="72.6" font-family="Liberation Sans" font-size="7" font-weight="bold" fill="#222" text-anchor="middle" >R</text>
<text x="102.8" y="294.3" font-family="Liberation Sans" font-size="25.5" font-weight="normal" fill="#222" text-anchor="start" textLength="100" lengthAdjust="spacingAndGlyphs" stroke="#fff" stroke-width="0.5">Legende</text>
<line x1="103" y1="300" x2="210.5" y2="300" stroke="#222" stroke-width="1.3" />
<rect x="104" y="306" width="27" height="27" fill="#00913A" stroke="#2a2a2a" stroke-width="1.8" />
<text x="137.8" y="330.4" font-family="Liberation Sans" font-size="26.5" font-weight="normal" fill="#1a1a1a" text-anchor="start" textLength="205.1" lengthAdjust="spacingAndGlyphs" stroke="#fff" stroke-width="0.35">Bereich Metallbau</text>
<rect x="104" y="342" width="27" height="25.8" fill="#F07D00" stroke="#2a2a2a" stroke-width="1.8" />
<text x="137.8" y="367.3" font-family="Liberation Sans" font-size="26.5" font-weight="normal" fill="#1a1a1a" text-anchor="start" textLength="194.3" lengthAdjust="spacingAndGlyphs" stroke="#fff" stroke-width="0.35">Bereich Stahlbau</text>
<rect x="104" y="377.8" width="27" height="26.2" fill="#9DDCF0" stroke="#2a2a2a" stroke-width="1.8" />
<text x="137.8" y="405.4" font-family="Liberation Sans" font-size="26.5" font-weight="normal" fill="#1a1a1a" text-anchor="start" textLength="291" lengthAdjust="spacingAndGlyphs" stroke="#fff" stroke-width="0.35">Bereich Kran + Transport</text>
<rect x="104" y="412.8" width="27" height="26.2" fill="#9D4BA1" stroke="#2a2a2a" stroke-width="1.8" />
<text x="137.8" y="435.9" font-family="Liberation Sans" font-size="26.5" font-weight="normal" fill="#1a1a1a" text-anchor="start" textLength="199.1" lengthAdjust="spacingAndGlyphs" stroke="#fff" stroke-width="0.35">Bereich Notstrom</text>
<rect x="104" y="449" width="27" height="26" fill="#FFEB00" stroke="#2a2a2a" stroke-width="1.8" />
<text x="137.8" y="475.7" font-family="Liberation Sans" font-size="26.5" font-weight="normal" fill="#1a1a1a" text-anchor="start" textLength="296.4" lengthAdjust="spacingAndGlyphs" stroke="#fff" stroke-width="0.35">Bereich Blechbeårbeitung</text>
<rect x="104" y="484" width="27" height="26.3" fill="#E3007A" stroke="#2a2a2a" stroke-width="1.8" />
<text x="137.8" y="512.2" font-family="Liberation Sans" font-size="26.5" font-weight="normal" fill="#1a1a1a" text-anchor="start" textLength="191" lengthAdjust="spacingAndGlyphs" stroke="#fff" stroke-width="0.35">Bereich Magazin</text>
<rect x="103" y="520.3" width="27" height="27.0" fill="#F4B8BE" stroke="#2a2a2a" stroke-width="1.8" />
<text x="139.5" y="542.7" font-family="Liberation Sans" font-size="26.5" font-weight="normal" fill="#1a1a1a" text-anchor="start" textLength="198" lengthAdjust="spacingAndGlyphs" stroke="#fff" stroke-width="0.35">Bereich Edelstahl</text>
<text x="568.75" y="803.4" font-family="Liberation Sans" font-size="19.5" font-weight="bold" fill="#000" text-anchor="start" textLength="67.2" lengthAdjust="spacingAndGlyphs" stroke="#000" stroke-width="0.35">Halle 1</text>
<text x="434.4" y="951.9" font-family="Liberation Sans" font-size="19.5" font-weight="bold" fill="#000" text-anchor="start" textLength="68.1" lengthAdjust="spacingAndGlyphs" stroke="#000" stroke-width="0.35">Halle 2</text>
<text x="668" y="1178.1" font-family="Liberation Sans" font-size="19.5" font-weight="bold" fill="#000" text-anchor="start" textLength="67.6" lengthAdjust="spacingAndGlyphs" stroke="#000" stroke-width="0.35">Halle 3</text>
<text x="1407" y="818.6" font-family="Liberation Sans" font-size="19.5" font-weight="bold" fill="#000" text-anchor="start" textLength="68.6" lengthAdjust="spacingAndGlyphs" stroke="#000" stroke-width="0.35">Halle 4</text>
<text x="1440" y="939" font-family="Liberation Sans" font-size="19.5" font-weight="bold" fill="#000" text-anchor="start" textLength="68" lengthAdjust="spacingAndGlyphs" stroke="#000" stroke-width="0.35">Halle 5</text>
<text x="1270" y="467.5" font-family="Liberation Sans" font-size="16.7" font-weight="bold" fill="#000" text-anchor="start" textLength="49.7" lengthAdjust="spacingAndGlyphs" stroke="#000" stroke-width="0.35">Halle 6</text>
<text x="761.5" y="919" font-family="Liberation Sans" font-size="19.5" font-weight="bold" fill="#000" text-anchor="start" textLength="68.1" lengthAdjust="spacingAndGlyphs" stroke="#000" stroke-width="0.35">Halle 7</text>
<text x="966.8" y="1007.6" font-family="Liberation Sans" font-size="19.5" font-weight="bold" fill="#000" text-anchor="start" textLength="43.6" lengthAdjust="spacingAndGlyphs" stroke="#000" stroke-width="0.35">KB 1</text>
<text x="968" y="1106" font-family="Liberation Sans" font-size="19.5" font-weight="bold" fill="#000" text-anchor="start" textLength="43.8" lengthAdjust="spacingAndGlyphs" stroke="#000" stroke-width="0.35">KB 2</text>
<text x="1032.4" y="1153" font-family="Liberation Sans" font-size="19.5" font-weight="bold" fill="#000" text-anchor="start" textLength="27.0" lengthAdjust="spacingAndGlyphs" stroke="#000" stroke-width="0.35">L 5</text>
<text x="1031.7" y="1201.7" font-family="Liberation Sans" font-size="19.5" font-weight="bold" fill="#000" text-anchor="start" textLength="27.0" lengthAdjust="spacingAndGlyphs" stroke="#000" stroke-width="0.35">L 4</text>
<text x="1383.8" y="635" font-family="Liberation Sans" font-size="19.5" font-weight="bold" fill="#000" text-anchor="start" textLength="20.6" lengthAdjust="spacingAndGlyphs" stroke="#000" stroke-width="0.35">L1</text>
<text x="1440.5" y="1120.1" font-family="Liberation Sans" font-size="19.5" font-weight="bold" fill="#000" text-anchor="start" textLength="21.3" lengthAdjust="spacingAndGlyphs" stroke="#000" stroke-width="0.35">L3</text>
<text x="1438.6" y="1245" font-family="Liberation Sans" font-size="19.5" font-weight="bold" fill="#000" text-anchor="start" textLength="27.0" lengthAdjust="spacingAndGlyphs" stroke="#000" stroke-width="0.35">L 2</text>
<text x="922.3" y="630.5" font-family="Liberation Sans" font-size="16.7" font-weight="bold" fill="#000" text-anchor="start" textLength="22.2" lengthAdjust="spacingAndGlyphs" stroke="#000" stroke-width="0.35">L 7</text>
<text x="986.5" y="1016.6" font-family="Liberation Sans" font-size="8.5" font-weight="bold" fill="#111" text-anchor="start" textLength="21.1" lengthAdjust="spacingAndGlyphs" >68 m</text>
<text x="1132.8" y="1002.5" font-family="Liberation Sans" font-size="8.5" font-weight="bold" fill="#111" text-anchor="start" textLength="24.2" lengthAdjust="spacingAndGlyphs" >8.5 m</text>
<text x="986.7" y="1076.9" font-family="Liberation Sans" font-size="8.5" font-weight="bold" fill="#111" text-anchor="start" textLength="19.3" lengthAdjust="spacingAndGlyphs" >85m</text>
<text x="1157.3" y="1111.4" font-family="Liberation Sans" font-size="8.5" font-weight="bold" fill="#111" text-anchor="start" textLength="19.5" lengthAdjust="spacingAndGlyphs" >14m</text>
<text x="1065" y="1152.6" font-family="Liberation Sans" font-size="8.5" font-weight="bold" fill="#111" text-anchor="start" textLength="21.8" lengthAdjust="spacingAndGlyphs" >39 m</text>
<text x="1154.3" y="1146.6" font-family="Liberation Sans" font-size="8.5" font-weight="bold" fill="#111" text-anchor="start" textLength="24.4" lengthAdjust="spacingAndGlyphs" >6.6 m</text>
<text x="1066" y="1193.9" font-family="Liberation Sans" font-size="8.5" font-weight="bold" fill="#111" text-anchor="start" textLength="21.6" lengthAdjust="spacingAndGlyphs" >43 m</text>
<text x="806.5" y="734.8" font-family="Liberation Sans" font-size="17.5" font-weight="bold" fill="#4040D0" text-anchor="start" textLength="19.5" lengthAdjust="spacingAndGlyphs" stroke="#4040D0" stroke-width="0.3">13</text>
<text x="1170" y="784" font-family="Liberation Sans" font-size="17.5" font-weight="bold" fill="#4040D0" text-anchor="start" textLength="19.6" lengthAdjust="spacingAndGlyphs" stroke="#4040D0" stroke-width="0.3">12</text>
<text x="1170.7" y="938.7" font-family="Liberation Sans" font-size="17.5" font-weight="bold" fill="#4040D0" text-anchor="start" textLength="19.3" lengthAdjust="spacingAndGlyphs" stroke="#4040D0" stroke-width="0.3">11</text>
<text x="694" y="971.6" font-family="Liberation Sans" font-size="20" font-weight="bold" fill="#4040D0" text-anchor="start" textLength="23" lengthAdjust="spacingAndGlyphs" stroke="#4040D0" stroke-width="0.3">25</text>
<text x="730" y="971.6" font-family="Liberation Sans" font-size="20" font-weight="bold" fill="#4040D0" text-anchor="start" textLength="23.7" lengthAdjust="spacingAndGlyphs" stroke="#4040D0" stroke-width="0.3">72</text>
<text x="782.6" y="971.6" font-family="Liberation Sans" font-size="20" font-weight="bold" fill="#4040D0" text-anchor="start" textLength="23.1" lengthAdjust="spacingAndGlyphs" stroke="#4040D0" stroke-width="0.3">71</text>
<text x="678.5" y="1005.3" font-family="Liberation Sans" font-size="20" font-weight="bold" fill="#4040D0" text-anchor="start" textLength="23.5" lengthAdjust="spacingAndGlyphs" stroke="#4040D0" stroke-width="0.3">82</text>
<text x="268" y="807.2" font-family="Liberation Sans" font-size="19.5" font-weight="bold" fill="#4040D0" text-anchor="start" textLength="23" lengthAdjust="spacingAndGlyphs" stroke="#4040D0" stroke-width="0.3">14</text>
<text x="232.8" y="950" font-family="Liberation Sans" font-size="19.5" font-weight="bold" fill="#4040D0" text-anchor="start" textLength="22.5" lengthAdjust="spacingAndGlyphs" stroke="#4040D0" stroke-width="0.3">21</text>
<text x="421" y="1012.5" font-family="Liberation Sans" font-size="19.5" font-weight="bold" fill="#4040D0" text-anchor="start" textLength="22.8" lengthAdjust="spacingAndGlyphs" stroke="#4040D0" stroke-width="0.3">22</text>
<text x="462" y="1012.5" font-family="Liberation Sans" font-size="19.5" font-weight="bold" fill="#4040D0" text-anchor="start" textLength="23" lengthAdjust="spacingAndGlyphs" stroke="#4040D0" stroke-width="0.3">23</text>
<text x="498.4" y="1012.5" font-family="Liberation Sans" font-size="19.5" font-weight="bold" fill="#4040D0" text-anchor="start" textLength="22.9" lengthAdjust="spacingAndGlyphs" stroke="#4040D0" stroke-width="0.3">24</text>
<text x="587.5" y="1033" font-family="Liberation Sans" font-size="19.5" font-weight="bold" fill="#4040D0" text-anchor="start" textLength="22.5" lengthAdjust="spacingAndGlyphs" stroke="#4040D0" stroke-width="0.3">81</text>
<text x="1202.4" y="735.7" font-family="Liberation Sans" font-size="17.5" font-weight="bold" fill="#4040D0" text-anchor="start" textLength="19.6" lengthAdjust="spacingAndGlyphs" stroke="#4040D0" stroke-width="0.3">41</text>
<text x="1455" y="736.7" font-family="Liberation Sans" font-size="17.5" font-weight="bold" fill="#4040D0" text-anchor="start" textLength="21.6" lengthAdjust="spacingAndGlyphs" stroke="#4040D0" stroke-width="0.3">43</text>
<text x="1631.5" y="730.8" font-family="Liberation Sans" font-size="17.5" font-weight="bold" fill="#4040D0" text-anchor="start" textLength="20.2" lengthAdjust="spacingAndGlyphs" stroke="#4040D0" stroke-width="0.3">53</text>
<text x="1203" y="879" font-family="Liberation Sans" font-size="17.5" font-weight="bold" fill="#4040D0" text-anchor="start" textLength="20.7" lengthAdjust="spacingAndGlyphs" stroke="#4040D0" stroke-width="0.3">42</text>
<text x="1271" y="956.9" font-family="Liberation Sans" font-size="17.5" font-weight="bold" fill="#4040D0" text-anchor="start" textLength="20.6" lengthAdjust="spacingAndGlyphs" stroke="#4040D0" stroke-width="0.3">51</text>
<text x="1663.3" y="992.7" font-family="Liberation Sans" font-size="17.5" font-weight="bold" fill="#4040D0" text-anchor="start" textLength="20.7" lengthAdjust="spacingAndGlyphs" stroke="#4040D0" stroke-width="0.3">52</text>
<text x="1386.8" y="411.9" font-family="Liberation Sans" font-size="17.5" font-weight="bold" fill="#4040D0" text-anchor="start" textLength="20.2" lengthAdjust="spacingAndGlyphs" stroke="#4040D0" stroke-width="0.3">62</text>
<text x="1511" y="500.4" font-family="Liberation Sans" font-size="17.5" font-weight="bold" fill="#4040D0" text-anchor="start" textLength="20.4" lengthAdjust="spacingAndGlyphs" stroke="#4040D0" stroke-width="0.3">61</text>
<text x="929.3" y="1178.1" font-family="Liberation Sans" font-size="20" font-weight="bold" fill="#4040D0" text-anchor="start" textLength="23.7" lengthAdjust="spacingAndGlyphs" stroke="#4040D0" stroke-width="0.3">32</text>
<text x="656.7" y="1125.6" font-family="Liberation Sans" font-size="20" font-weight="bold" fill="#4040D0" text-anchor="start" textLength="24.0" lengthAdjust="spacingAndGlyphs" stroke="#4040D0" stroke-width="0.3">31</text>
<text x="278.75" y="716.6" font-family="Liberation Sans" font-size="19.5" font-weight="bold" fill="#E62129" text-anchor="start" textLength="28.1" lengthAdjust="spacingAndGlyphs" stroke="#E62129" stroke-width="0.35">Z 2</text>
<text x="198.5" y="1077.9" font-family="Liberation Sans" font-size="20" font-weight="bold" fill="#E62129" text-anchor="start" textLength="28.5" lengthAdjust="spacingAndGlyphs" stroke="#E62129" stroke-width="0.35">Z 1</text>
<text x="1635.8" y="511.4" font-family="Liberation Sans" font-size="19.5" font-weight="bold" fill="#E62129" text-anchor="start" textLength="24.2" lengthAdjust="spacingAndGlyphs" stroke="#E62129" stroke-width="0.35">Z3</text>
<text x="694" y="587.5" font-family="Liberation Sans" font-size="17.5" font-weight="bold" fill="#E62129" text-anchor="start" textLength="22" lengthAdjust="spacingAndGlyphs" stroke="#E62129" stroke-width="0.35">Z4</text>
<text x="1193" y="705.3" font-family="Liberation Sans" font-size="21.5" font-weight="normal" fill="#FF0000" text-anchor="start" textLength="119" lengthAdjust="spacingAndGlyphs" >Pressmulde</text>
</svg></body></html>
